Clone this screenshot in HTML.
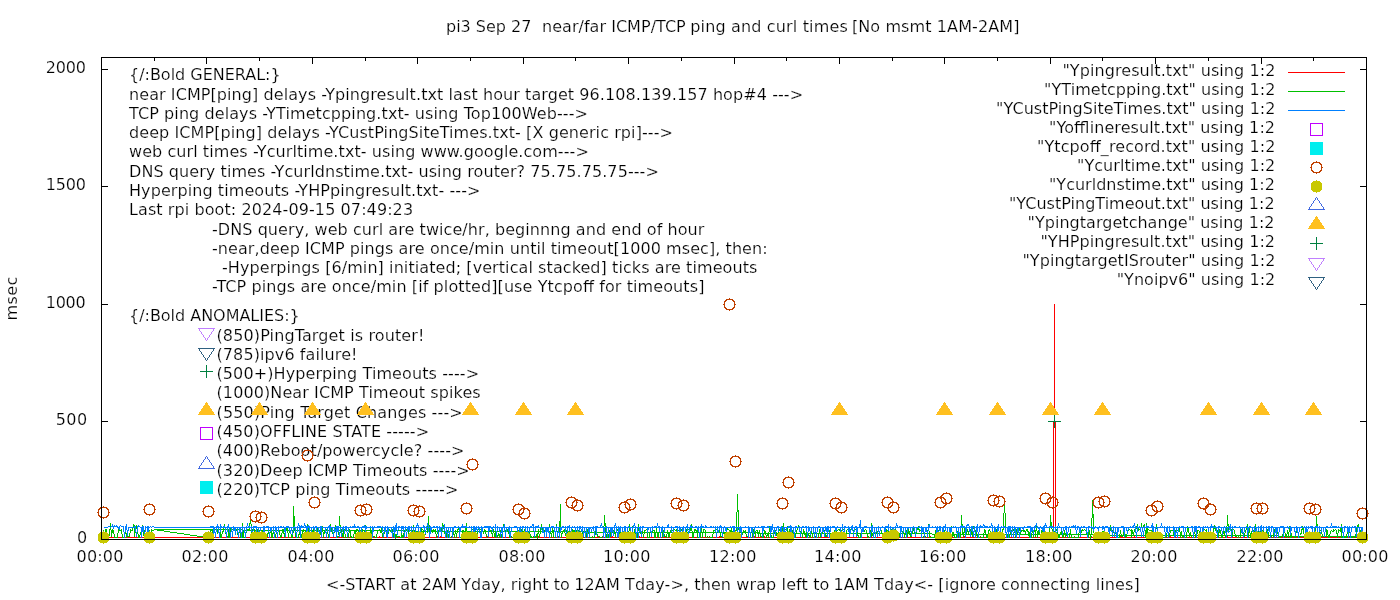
<!DOCTYPE html>
<html lang="en"><head><meta charset="utf-8"><title>pi3 Sep 27 near/far ICMP/TCP ping and curl times</title>
<style>html,body{margin:0;padding:0;background:#fff;}body{width:1400px;height:600px;overflow:hidden;}svg{display:block;}text{font-family:"DejaVu Sans","Liberation Sans",sans-serif;font-size:16px;fill:#000;white-space:pre;stroke:#fff;stroke-width:0.2px;paint-order:fill stroke;}</style></head><body>
<svg width="1400" height="600" viewBox="0 0 1400 600">
<rect width="1400" height="600" fill="#fff"/>
<g fill="#000" shape-rendering="crispEdges">
<rect x="101" y="57" width="1" height="7"/>
<rect x="101" y="533" width="1" height="7"/>
<rect x="154" y="57" width="1" height="4"/>
<rect x="154" y="536" width="1" height="4"/>
<rect x="206" y="57" width="1" height="7"/>
<rect x="206" y="533" width="1" height="7"/>
<rect x="259" y="57" width="1" height="4"/>
<rect x="259" y="536" width="1" height="4"/>
<rect x="312" y="57" width="1" height="7"/>
<rect x="312" y="533" width="1" height="7"/>
<rect x="365" y="57" width="1" height="4"/>
<rect x="365" y="536" width="1" height="4"/>
<rect x="417" y="57" width="1" height="7"/>
<rect x="417" y="533" width="1" height="7"/>
<rect x="470" y="57" width="1" height="4"/>
<rect x="470" y="536" width="1" height="4"/>
<rect x="523" y="57" width="1" height="7"/>
<rect x="523" y="533" width="1" height="7"/>
<rect x="575" y="57" width="1" height="4"/>
<rect x="575" y="536" width="1" height="4"/>
<rect x="628" y="57" width="1" height="7"/>
<rect x="628" y="533" width="1" height="7"/>
<rect x="681" y="57" width="1" height="4"/>
<rect x="681" y="536" width="1" height="4"/>
<rect x="734" y="57" width="1" height="7"/>
<rect x="734" y="533" width="1" height="7"/>
<rect x="786" y="57" width="1" height="4"/>
<rect x="786" y="536" width="1" height="4"/>
<rect x="839" y="57" width="1" height="7"/>
<rect x="839" y="533" width="1" height="7"/>
<rect x="892" y="57" width="1" height="4"/>
<rect x="892" y="536" width="1" height="4"/>
<rect x="944" y="57" width="1" height="7"/>
<rect x="944" y="533" width="1" height="7"/>
<rect x="997" y="57" width="1" height="4"/>
<rect x="997" y="536" width="1" height="4"/>
<rect x="1050" y="57" width="1" height="7"/>
<rect x="1050" y="533" width="1" height="7"/>
<rect x="1102" y="57" width="1" height="4"/>
<rect x="1102" y="536" width="1" height="4"/>
<rect x="1155" y="57" width="1" height="7"/>
<rect x="1155" y="533" width="1" height="7"/>
<rect x="1208" y="57" width="1" height="4"/>
<rect x="1208" y="536" width="1" height="4"/>
<rect x="1261" y="57" width="1" height="7"/>
<rect x="1261" y="533" width="1" height="7"/>
<rect x="1313" y="57" width="1" height="4"/>
<rect x="1313" y="536" width="1" height="4"/>
<rect x="1366" y="57" width="1" height="7"/>
<rect x="1366" y="533" width="1" height="7"/>
<rect x="101" y="539" width="7" height="1"/>
<rect x="1360" y="539" width="7" height="1"/>
<rect x="101" y="421" width="7" height="1"/>
<rect x="1360" y="421" width="7" height="1"/>
<rect x="101" y="304" width="7" height="1"/>
<rect x="1360" y="304" width="7" height="1"/>
<rect x="101" y="186" width="7" height="1"/>
<rect x="1360" y="186" width="7" height="1"/>
<rect x="101" y="69" width="7" height="1"/>
<rect x="1360" y="69" width="7" height="1"/>
</g>
<g>
<text x="0" y="0" transform="translate(17 320.4) rotate(-90)" textLength="43.8" lengthAdjust="spacing">msec</text>
<text y="32"><tspan x="446.00" textLength="85.47" lengthAdjust="spacing">pi3 Sep 27</tspan>  <tspan x="542.00" textLength="143.78" lengthAdjust="spacing">near/far ICMP/TCP</tspan> <tspan x="690.25" textLength="157.50" lengthAdjust="spacing">ping and curl times</tspan> <tspan x="851.90" textLength="167.53" lengthAdjust="spacing">[No msmt 1AM-2AM]</tspan></text>
<text y="590"><tspan x="326.00" textLength="130.80" lengthAdjust="spacing">&lt;-START at 2AM</tspan> <tspan x="461.25" textLength="108.66" lengthAdjust="spacing">Yday, right to</tspan> <tspan x="574.25" textLength="114.75" lengthAdjust="spacing">12AM Tday-&gt;,</tspan> <tspan x="694.25" textLength="135.12" lengthAdjust="spacing">then wrap left to</tspan> <tspan x="833.50" textLength="99.52" lengthAdjust="spacing">1AM Tday&lt;-</tspan> <tspan x="938.30" textLength="201.40" lengthAdjust="spacing">[ignore connecting lines]</tspan></text>
<text x="76.60" y="562" textLength="46.73" lengthAdjust="spacing">00:00</text>
<text x="181.60" y="562" textLength="46.73" lengthAdjust="spacing">02:00</text>
<text x="287.60" y="562" textLength="46.73" lengthAdjust="spacing">04:00</text>
<text x="392.60" y="562" textLength="46.73" lengthAdjust="spacing">06:00</text>
<text x="498.60" y="562" textLength="46.73" lengthAdjust="spacing">08:00</text>
<text x="603.00" y="562" textLength="47.48" lengthAdjust="spacing">10:00</text>
<text x="709.00" y="562" textLength="47.48" lengthAdjust="spacing">12:00</text>
<text x="814.00" y="562" textLength="47.48" lengthAdjust="spacing">14:00</text>
<text x="919.00" y="562" textLength="47.48" lengthAdjust="spacing">16:00</text>
<text x="1025.00" y="562" textLength="47.48" lengthAdjust="spacing">18:00</text>
<text x="1130.60" y="562" textLength="46.73" lengthAdjust="spacing">20:00</text>
<text x="1236.60" y="562" textLength="46.73" lengthAdjust="spacing">22:00</text>
<text x="1341.60" y="562" textLength="46.73" lengthAdjust="spacing">00:00</text>
<text x="76.90" y="543" textLength="10.39" lengthAdjust="spacing">0</text>
<text x="55.75" y="425" textLength="31.37" lengthAdjust="spacing">500</text>
<text x="45.70" y="308" textLength="40.05" lengthAdjust="spacing">1000</text>
<text x="45.75" y="190" textLength="40.12" lengthAdjust="spacing">1500</text>
<text x="45.75" y="73" textLength="40.12" lengthAdjust="spacing">2000</text>
<text x="129.00" y="80" textLength="151.59" lengthAdjust="spacing">{/:Bold GENERAL:}</text>
<text x="129.00" y="100" textLength="674.10" lengthAdjust="spacing">near ICMP[ping] delays -Ypingresult.txt last hour target 96.108.139.157 hop#4 ---&gt;</text>
<text x="129.00" y="119" textLength="458.91" lengthAdjust="spacing">TCP ping delays -YTimetcpping.txt- using Top100Web---&gt;</text>
<text x="129.00" y="138" textLength="543.97" lengthAdjust="spacing">deep ICMP[ping] delays -YCustPingSiteTimes.txt- [X generic rpi]---&gt;</text>
<text x="129.00" y="157" textLength="459.83" lengthAdjust="spacing">web curl times -Ycurltime.txt- using www.google.com---&gt;</text>
<text x="129.00" y="177" textLength="529.87" lengthAdjust="spacing">DNS query times -Ycurldnstime.txt- using router? 75.75.75.75---&gt;</text>
<text x="129.00" y="196" textLength="351.50" lengthAdjust="spacing">Hyperping timeouts -YHPpingresult.txt- ---&gt;</text>
<text x="129.00" y="215" textLength="284.08" lengthAdjust="spacing">Last rpi boot: 2024-09-15 07:49:23</text>
<text x="212.00" y="235" textLength="492.37" lengthAdjust="spacing">-DNS query, web curl are twice/hr, beginnng and end of hour</text>
<text x="212.00" y="254" textLength="555.61" lengthAdjust="spacing">-near,deep ICMP pings are once/min until timeout[1000 msec], then:</text>
<text x="222.00" y="273" textLength="535.34" lengthAdjust="spacing">-Hyperpings [6/min] initiated; [vertical stacked] ticks are timeouts</text>
<text x="212.00" y="292" textLength="492.39" lengthAdjust="spacing">-TCP pings are once/min [if plotted][use Ytcpoff for timeouts]</text>
<text x="129.00" y="321" textLength="170.72" lengthAdjust="spacing">{/:Bold ANOMALIES:}</text>
<text x="216.50" y="341" textLength="207.90" lengthAdjust="spacing">(850)PingTarget is router!</text>
<text x="216.50" y="360" textLength="141.01" lengthAdjust="spacing">(785)ipv6 failure!</text>
<text x="216.50" y="379" textLength="262.57" lengthAdjust="spacing">(500+)Hyperping Timeouts ----&gt;</text>
<text x="216.50" y="398" textLength="264.17" lengthAdjust="spacing">(1000)Near ICMP Timeout spikes</text>
<text x="216.50" y="418" textLength="246.28" lengthAdjust="spacing">(550)Ping Target Changes ---&gt;</text>
<text x="216.50" y="437" textLength="212.54" lengthAdjust="spacing">(450)OFFLINE STATE -----&gt;</text>
<text x="216.50" y="456" textLength="248.00" lengthAdjust="spacing">(400)Reboot/powercycle? ----&gt;</text>
<text x="216.50" y="476" textLength="253.20" lengthAdjust="spacing">(320)Deep ICMP Timeouts ----&gt;</text>
<text x="216.50" y="495" textLength="241.82" lengthAdjust="spacing">(220)TCP ping Timeouts -----&gt;</text>
<text x="1062.40" y="76" textLength="212.98" lengthAdjust="spacing">&quot;Ypingresult.txt&quot; using 1:2</text>
<text x="1044.10" y="95" textLength="231.36" lengthAdjust="spacing">&quot;YTimetcpping.txt&quot; using 1:2</text>
<text x="996.10" y="114" textLength="279.37" lengthAdjust="spacing">&quot;YCustPingSiteTimes.txt&quot; using 1:2</text>
<text x="1049.00" y="133" textLength="226.05" lengthAdjust="spacing">&quot;Yofflineresult.txt&quot; using 1:2</text>
<text x="1037.00" y="152" textLength="238.37" lengthAdjust="spacing">&quot;Ytcpoff_record.txt&quot; using 1:2</text>
<text x="1077.00" y="171" textLength="198.30" lengthAdjust="spacing">&quot;Ycurltime.txt&quot; using 1:2</text>
<text x="1049.00" y="190" textLength="225.90" lengthAdjust="spacing">&quot;Ycurldnstime.txt&quot; using 1:2</text>
<text x="1009.00" y="209" textLength="265.60" lengthAdjust="spacing">&quot;YCustPingTimeout.txt&quot; using 1:2</text>
<text x="1027.60" y="228" textLength="246.89" lengthAdjust="spacing">&quot;Ypingtargetchange&quot; using 1:2</text>
<text x="1040.40" y="247" textLength="234.65" lengthAdjust="spacing">&quot;YHPpingresult.txt&quot; using 1:2</text>
<text x="1022.40" y="266" textLength="252.97" lengthAdjust="spacing">&quot;YpingtargetISrouter&quot; using 1:2</text>
<text x="1116.70" y="285" textLength="158.55" lengthAdjust="spacing">&quot;Ynoipv6&quot; using 1:2</text>
</g>
<g fill="none" stroke-width="1" shape-rendering="crispEdges" stroke-linejoin="miter">
<polyline stroke="#ff0000" points="209.5,537.5 210.5,537.5 211.5,537.5 212.5,537.5 213.5,537.5 213.5,537.5 214.5,537.5 215.5,537.5 216.5,537.5 217.5,537.5 218.5,537.5 219.5,537.5 220.5,537.5 220.5,537.5 221.5,537.5 222.5,537.5 223.5,537.5 224.5,537.5 225.5,537.5 226.5,536.5 227.5,537.5 228.5,537.5 228.5,537.5 229.5,537.5 230.5,537.5 231.5,537.5 232.5,537.5 233.5,537.5 234.5,537.5 235.5,537.5 235.5,537.5 236.5,537.5 237.5,537.5 238.5,537.5 239.5,537.5 240.5,537.5 241.5,537.5 242.5,537.5 242.5,537.5 243.5,537.5 244.5,537.5 245.5,537.5 246.5,537.5 247.5,537.5 248.5,537.5 249.5,537.5 249.5,537.5 250.5,536.5 251.5,537.5 252.5,537.5 253.5,537.5 254.5,537.5 255.5,537.5 256.5,537.5 256.5,537.5 257.5,537.5 258.5,537.5 259.5,537.5 260.5,537.5 261.5,537.5 262.5,537.5 263.5,537.5 264.5,537.5 264.5,537.5 265.5,537.5 266.5,537.5 267.5,537.5 268.5,537.5 269.5,537.5 270.5,537.5 271.5,537.5 271.5,536.5 272.5,537.5 273.5,537.5 274.5,537.5 275.5,536.5 276.5,537.5 277.5,537.5 278.5,537.5 278.5,537.5 279.5,537.5 280.5,537.5 281.5,537.5 282.5,537.5 283.5,537.5 284.5,537.5 285.5,537.5 285.5,537.5 286.5,537.5 287.5,537.5 288.5,537.5 289.5,537.5 290.5,537.5 291.5,536.5 292.5,537.5 293.5,537.5 293.5,537.5 294.5,537.5 295.5,536.5 296.5,537.5 297.5,537.5 298.5,537.5 299.5,537.5 300.5,537.5 300.5,537.5 301.5,537.5 302.5,537.5 303.5,537.5 304.5,537.5 305.5,537.5 306.5,537.5 307.5,537.5 307.5,537.5 308.5,537.5 309.5,537.5 310.5,537.5 311.5,537.5 312.5,537.5 313.5,537.5 314.5,537.5 314.5,536.5 315.5,536.5 316.5,537.5 317.5,537.5 318.5,537.5 319.5,537.5 320.5,537.5 321.5,537.5 321.5,537.5 322.5,537.5 323.5,537.5 324.5,537.5 325.5,537.5 326.5,537.5 327.5,537.5 328.5,537.5 329.5,537.5 329.5,537.5 330.5,537.5 331.5,537.5 332.5,537.5 333.5,537.5 334.5,537.5 335.5,537.5 336.5,537.5 336.5,537.5 337.5,537.5 338.5,537.5 339.5,537.5 340.5,537.5 341.5,537.5 342.5,537.5 343.5,537.5 343.5,537.5 344.5,537.5 345.5,537.5 346.5,537.5 347.5,537.5 348.5,537.5 349.5,537.5 350.5,537.5 350.5,537.5 351.5,537.5 352.5,537.5 353.5,537.5 354.5,537.5 355.5,537.5 356.5,537.5 357.5,536.5 358.5,537.5 358.5,537.5 359.5,537.5 360.5,537.5 361.5,537.5 362.5,537.5 363.5,537.5 364.5,537.5 365.5,537.5 365.5,537.5 366.5,537.5 367.5,537.5 368.5,537.5 369.5,537.5 370.5,537.5 371.5,537.5 372.5,537.5 372.5,537.5 373.5,537.5 374.5,537.5 375.5,537.5 376.5,537.5 377.5,537.5 378.5,537.5 379.5,537.5 379.5,536.5 380.5,537.5 381.5,537.5 382.5,536.5 383.5,537.5 384.5,537.5 385.5,537.5 386.5,537.5 387.5,537.5 387.5,537.5 388.5,537.5 389.5,537.5 390.5,537.5 391.5,537.5 392.5,537.5 393.5,537.5 394.5,537.5 394.5,537.5 395.5,537.5 396.5,537.5 397.5,537.5 398.5,537.5 399.5,537.5 400.5,537.5 401.5,537.5 401.5,537.5 402.5,537.5 403.5,537.5 404.5,537.5 405.5,537.5 406.5,537.5 407.5,537.5 408.5,537.5 408.5,537.5 409.5,537.5 410.5,537.5 411.5,537.5 412.5,537.5 413.5,537.5 414.5,537.5 415.5,537.5 415.5,537.5 416.5,537.5 417.5,537.5 418.5,537.5 419.5,537.5 420.5,537.5 421.5,537.5 422.5,537.5 423.5,537.5 423.5,537.5 424.5,537.5 425.5,537.5 426.5,537.5 427.5,537.5 428.5,537.5 429.5,537.5 430.5,537.5 430.5,537.5 431.5,537.5 432.5,537.5 433.5,537.5 434.5,537.5 435.5,537.5 436.5,537.5 437.5,537.5 437.5,536.5 438.5,537.5 439.5,537.5 440.5,536.5 441.5,537.5 442.5,537.5 443.5,537.5 444.5,537.5 444.5,537.5 445.5,537.5 446.5,537.5 447.5,537.5 448.5,537.5 449.5,537.5 450.5,537.5 451.5,537.5 452.5,537.5 452.5,537.5 453.5,537.5 454.5,537.5 455.5,537.5 456.5,537.5 457.5,537.5 458.5,537.5 459.5,537.5 459.5,537.5 460.5,537.5 461.5,537.5 462.5,537.5 463.5,537.5 464.5,537.5 465.5,537.5 466.5,537.5 466.5,537.5 467.5,537.5 468.5,537.5 469.5,537.5 470.5,537.5 471.5,537.5 472.5,537.5 473.5,537.5 473.5,537.5 474.5,537.5 475.5,537.5 476.5,537.5 477.5,537.5 478.5,537.5 479.5,537.5 480.5,537.5 481.5,537.5 481.5,537.5 482.5,537.5 483.5,537.5 484.5,537.5 485.5,537.5 486.5,537.5 487.5,536.5 488.5,537.5 488.5,536.5 489.5,537.5 490.5,537.5 491.5,537.5 492.5,537.5 493.5,537.5 494.5,537.5 495.5,537.5 495.5,537.5 496.5,537.5 497.5,537.5 498.5,537.5 499.5,537.5 500.5,537.5 501.5,537.5 502.5,537.5 502.5,537.5 503.5,537.5 504.5,537.5 505.5,537.5 506.5,537.5 507.5,537.5 508.5,537.5 509.5,537.5 509.5,537.5 510.5,537.5 511.5,537.5 512.5,537.5 513.5,537.5 514.5,537.5 515.5,537.5 516.5,537.5 517.5,537.5 517.5,537.5 518.5,537.5 519.5,537.5 520.5,537.5 521.5,537.5 522.5,537.5 523.5,537.5 524.5,537.5 524.5,537.5 525.5,537.5 526.5,537.5 527.5,537.5 528.5,536.5 529.5,537.5 530.5,537.5 531.5,537.5 531.5,537.5 532.5,537.5 533.5,536.5 534.5,537.5 535.5,537.5 536.5,537.5 537.5,537.5 538.5,536.5 538.5,537.5 539.5,537.5 540.5,537.5 541.5,537.5 542.5,537.5 543.5,537.5 544.5,537.5 545.5,537.5 546.5,537.5 546.5,537.5 547.5,537.5 548.5,537.5 549.5,537.5 550.5,537.5 551.5,537.5 552.5,537.5 553.5,537.5 553.5,537.5 554.5,537.5 555.5,537.5 556.5,537.5 557.5,537.5 558.5,537.5 559.5,537.5 560.5,537.5 560.5,537.5 561.5,537.5 562.5,537.5 563.5,537.5 564.5,537.5 565.5,537.5 566.5,537.5 567.5,537.5 567.5,537.5 568.5,537.5 569.5,537.5 570.5,537.5 571.5,537.5 572.5,537.5 573.5,537.5 574.5,537.5 574.5,536.5 575.5,537.5 576.5,537.5 577.5,537.5 578.5,537.5 579.5,537.5 580.5,537.5 581.5,537.5 582.5,537.5 582.5,537.5 583.5,537.5 584.5,537.5 585.5,537.5 586.5,537.5 587.5,537.5 588.5,537.5 589.5,537.5 589.5,537.5 590.5,537.5 591.5,537.5 592.5,537.5 593.5,537.5 594.5,537.5 595.5,537.5 596.5,537.5 596.5,537.5 597.5,537.5 598.5,537.5 599.5,536.5 600.5,537.5 601.5,537.5 602.5,537.5 603.5,537.5 603.5,537.5 604.5,537.5 605.5,537.5 606.5,537.5 607.5,537.5 608.5,537.5 609.5,537.5 610.5,537.5 611.5,537.5 611.5,537.5 612.5,536.5 613.5,537.5 614.5,537.5 615.5,537.5 616.5,537.5 617.5,537.5 618.5,537.5 618.5,537.5 619.5,537.5 620.5,537.5 621.5,537.5 622.5,537.5 623.5,537.5 624.5,537.5 625.5,537.5 625.5,537.5 626.5,537.5 627.5,537.5 628.5,537.5 629.5,537.5 630.5,537.5 631.5,536.5 632.5,536.5 632.5,537.5 633.5,537.5 634.5,537.5 635.5,537.5 636.5,537.5 637.5,537.5 638.5,537.5 639.5,536.5 640.5,537.5 640.5,537.5 641.5,537.5 642.5,537.5 643.5,537.5 644.5,537.5 645.5,537.5 646.5,537.5 647.5,537.5 647.5,537.5 648.5,537.5 649.5,537.5 650.5,537.5 651.5,537.5 652.5,537.5 653.5,537.5 654.5,537.5 654.5,537.5 655.5,537.5 656.5,537.5 657.5,537.5 658.5,537.5 659.5,537.5 660.5,537.5 661.5,537.5 661.5,537.5 662.5,537.5 663.5,537.5 664.5,537.5 665.5,537.5 666.5,537.5 667.5,537.5 668.5,537.5 668.5,537.5 669.5,537.5 670.5,537.5 671.5,537.5 672.5,537.5 673.5,537.5 674.5,537.5 675.5,537.5 676.5,537.5 676.5,537.5 677.5,537.5 678.5,537.5 679.5,537.5 680.5,537.5 681.5,537.5 682.5,537.5 683.5,537.5 683.5,537.5 684.5,537.5 685.5,537.5 686.5,537.5 687.5,537.5 688.5,537.5 689.5,537.5 690.5,537.5 690.5,537.5 691.5,537.5 692.5,537.5 693.5,537.5 694.5,537.5 695.5,537.5 696.5,537.5 697.5,537.5 697.5,537.5 698.5,537.5 699.5,537.5 700.5,537.5 701.5,537.5 702.5,537.5 703.5,537.5 704.5,537.5 705.5,537.5 705.5,537.5 706.5,537.5 707.5,537.5 708.5,537.5 709.5,537.5 710.5,537.5 711.5,537.5 712.5,537.5 712.5,537.5 713.5,537.5 714.5,537.5 715.5,537.5 716.5,537.5 717.5,537.5 718.5,537.5 719.5,536.5 719.5,537.5 720.5,537.5 721.5,537.5 722.5,537.5 723.5,537.5 724.5,536.5 725.5,537.5 726.5,537.5 726.5,537.5 727.5,537.5 728.5,537.5 729.5,537.5 730.5,537.5 731.5,537.5 732.5,537.5 733.5,537.5 734.5,537.5 734.5,537.5 735.5,537.5 736.5,537.5 737.5,537.5 738.5,537.5 739.5,537.5 740.5,537.5 741.5,537.5 741.5,537.5 742.5,537.5 743.5,537.5 744.5,537.5 745.5,537.5 746.5,537.5 747.5,537.5 748.5,537.5 748.5,537.5 749.5,537.5 750.5,537.5 751.5,537.5 752.5,537.5 753.5,537.5 754.5,536.5 755.5,537.5 755.5,537.5 756.5,537.5 757.5,537.5 758.5,537.5 759.5,537.5 760.5,537.5 761.5,537.5 762.5,537.5 762.5,537.5 763.5,537.5 764.5,536.5 765.5,537.5 766.5,537.5 767.5,537.5 768.5,537.5 769.5,537.5 770.5,537.5 770.5,537.5 771.5,537.5 772.5,537.5 773.5,537.5 774.5,537.5 775.5,537.5 776.5,537.5 777.5,537.5 777.5,537.5 778.5,537.5 779.5,537.5 780.5,537.5 781.5,537.5 782.5,537.5 783.5,537.5 784.5,537.5 784.5,537.5 785.5,537.5 786.5,537.5 787.5,537.5 788.5,537.5 789.5,537.5 790.5,537.5 791.5,537.5 791.5,537.5 792.5,537.5 793.5,537.5 794.5,537.5 795.5,537.5 796.5,537.5 797.5,537.5 798.5,537.5 799.5,537.5 799.5,537.5 800.5,537.5 801.5,537.5 802.5,537.5 803.5,537.5 804.5,537.5 805.5,537.5 806.5,537.5 806.5,537.5 807.5,537.5 808.5,537.5 809.5,537.5 810.5,537.5 811.5,537.5 812.5,536.5 813.5,537.5 813.5,537.5 814.5,537.5 815.5,537.5 816.5,537.5 817.5,537.5 818.5,537.5 819.5,537.5 820.5,537.5 820.5,537.5 821.5,537.5 822.5,537.5 823.5,537.5 824.5,537.5 825.5,537.5 826.5,537.5 827.5,537.5 827.5,537.5 828.5,537.5 829.5,537.5 830.5,537.5 831.5,537.5 832.5,537.5 833.5,537.5 834.5,537.5 835.5,537.5 835.5,537.5 836.5,537.5 837.5,537.5 838.5,537.5 839.5,537.5 840.5,537.5 841.5,537.5 842.5,537.5 842.5,537.5 843.5,537.5 844.5,536.5 845.5,537.5 846.5,537.5 847.5,537.5 848.5,537.5 849.5,536.5 849.5,537.5 850.5,537.5 851.5,537.5 852.5,537.5 853.5,537.5 854.5,537.5 855.5,537.5 856.5,537.5 856.5,537.5 857.5,537.5 858.5,537.5 859.5,537.5 860.5,537.5 861.5,537.5 862.5,537.5 863.5,537.5 864.5,537.5 864.5,537.5 865.5,537.5 866.5,537.5 867.5,537.5 868.5,537.5 869.5,537.5 870.5,537.5 871.5,537.5 871.5,537.5 872.5,537.5 873.5,537.5 874.5,537.5 875.5,537.5 876.5,537.5 877.5,537.5 878.5,537.5 878.5,537.5 879.5,537.5 880.5,537.5 881.5,537.5 882.5,537.5 883.5,537.5 884.5,537.5 885.5,537.5 885.5,537.5 886.5,537.5 887.5,537.5 888.5,537.5 889.5,537.5 890.5,537.5 891.5,537.5 892.5,537.5 893.5,537.5 893.5,537.5 894.5,537.5 895.5,537.5 896.5,537.5 897.5,537.5 898.5,537.5 899.5,537.5 900.5,537.5 900.5,537.5 901.5,537.5 902.5,537.5 903.5,537.5 904.5,537.5 905.5,537.5 906.5,537.5 907.5,537.5 907.5,537.5 908.5,537.5 909.5,537.5 910.5,537.5 911.5,537.5 912.5,537.5 913.5,537.5 914.5,537.5 914.5,537.5 915.5,537.5 916.5,537.5 917.5,537.5 918.5,537.5 919.5,537.5 920.5,537.5 921.5,537.5 921.5,537.5 922.5,537.5 923.5,537.5 924.5,537.5 925.5,537.5 926.5,537.5 927.5,537.5 928.5,537.5 929.5,537.5 929.5,537.5 930.5,536.5 931.5,537.5 932.5,537.5 933.5,537.5 934.5,537.5 935.5,537.5 936.5,537.5 936.5,537.5 937.5,537.5 938.5,537.5 939.5,537.5 940.5,537.5 941.5,537.5 942.5,537.5 943.5,537.5 943.5,537.5 944.5,537.5 945.5,537.5 946.5,537.5 947.5,537.5 948.5,537.5 949.5,537.5 950.5,537.5 950.5,537.5 951.5,537.5 952.5,537.5 953.5,537.5 954.5,537.5 955.5,537.5 956.5,537.5 957.5,536.5 958.5,537.5 958.5,537.5 959.5,537.5 960.5,537.5 961.5,537.5 962.5,537.5 963.5,537.5 964.5,536.5 965.5,537.5 965.5,537.5 966.5,537.5 967.5,537.5 968.5,537.5 969.5,537.5 970.5,537.5 971.5,537.5 972.5,537.5 972.5,537.5 973.5,537.5 974.5,537.5 975.5,537.5 976.5,537.5 977.5,537.5 978.5,537.5 979.5,537.5 979.5,537.5 980.5,537.5 981.5,537.5 982.5,537.5 983.5,537.5 984.5,537.5 985.5,537.5 986.5,537.5 987.5,537.5 987.5,537.5 988.5,537.5 989.5,537.5 990.5,537.5 991.5,537.5 992.5,537.5 993.5,537.5 994.5,537.5 994.5,537.5 995.5,537.5 996.5,537.5 997.5,537.5 998.5,537.5 999.5,537.5 1000.5,537.5 1001.5,537.5 1001.5,537.5 1002.5,537.5 1003.5,537.5 1004.5,537.5 1005.5,537.5 1006.5,537.5 1007.5,537.5 1008.5,537.5 1008.5,537.5 1009.5,537.5 1010.5,537.5 1011.5,537.5 1012.5,537.5 1013.5,537.5 1014.5,537.5 1015.5,536.5 1015.5,537.5 1016.5,537.5 1017.5,537.5 1018.5,537.5 1019.5,537.5 1020.5,537.5 1021.5,537.5 1022.5,537.5 1023.5,537.5 1023.5,537.5 1024.5,537.5 1025.5,537.5 1026.5,537.5 1027.5,537.5 1028.5,537.5 1029.5,537.5 1030.5,537.5 1030.5,537.5 1031.5,537.5 1032.5,537.5 1033.5,537.5 1034.5,537.5 1035.5,537.5 1036.5,537.5 1037.5,537.5 1037.5,537.5 1038.5,537.5 1039.5,537.5 1040.5,537.5 1041.5,537.5 1042.5,537.5 1043.5,537.5 1044.5,537.5 1044.5,537.5 1045.5,537.5 1046.5,537.5 1047.5,537.5 1048.5,537.5 1049.5,537.5 1050.5,537.5 1051.5,537.5 1052.5,537.5 1052.5,537.5 1053.5,537.5 1054.5,537.5 1055.5,537.5 1056.5,537.5 1057.5,537.5 1058.5,537.5 1059.5,537.5 1059.5,537.5 1060.5,537.5 1061.5,537.5 1062.5,537.5 1063.5,537.5 1064.5,537.5 1065.5,537.5 1066.5,537.5 1066.5,537.5 1067.5,537.5 1068.5,537.5 1069.5,537.5 1070.5,537.5 1071.5,537.5 1072.5,537.5 1073.5,537.5 1073.5,537.5 1074.5,537.5 1075.5,537.5 1076.5,537.5 1077.5,537.5 1078.5,537.5 1079.5,537.5 1080.5,537.5 1080.5,537.5 1081.5,537.5 1082.5,537.5 1083.5,537.5 1084.5,537.5 1085.5,537.5 1086.5,537.5 1087.5,537.5 1088.5,537.5 1088.5,537.5 1089.5,537.5 1090.5,537.5 1091.5,537.5 1092.5,537.5 1093.5,536.5 1094.5,537.5 1095.5,537.5 1095.5,537.5 1096.5,537.5 1097.5,537.5 1098.5,537.5 1099.5,537.5 1100.5,537.5 1101.5,537.5 1102.5,536.5 1102.5,536.5 1103.5,537.5 1104.5,537.5 1105.5,537.5 1106.5,537.5 1107.5,537.5 1108.5,537.5 1109.5,537.5 1109.5,537.5 1110.5,537.5 1111.5,537.5 1112.5,537.5 1113.5,537.5 1114.5,537.5 1115.5,537.5 1116.5,537.5 1117.5,537.5 1117.5,537.5 1118.5,537.5 1119.5,537.5 1120.5,536.5 1121.5,537.5 1122.5,537.5 1123.5,537.5 1124.5,537.5 1124.5,537.5 1125.5,537.5 1126.5,537.5 1127.5,537.5 1128.5,537.5 1129.5,537.5 1130.5,537.5 1131.5,537.5 1131.5,537.5 1132.5,537.5 1133.5,537.5 1134.5,536.5 1135.5,537.5 1136.5,537.5 1137.5,537.5 1138.5,537.5 1138.5,537.5 1139.5,537.5 1140.5,537.5 1141.5,537.5 1142.5,537.5 1143.5,537.5 1144.5,537.5 1145.5,537.5 1146.5,537.5 1146.5,537.5 1147.5,537.5 1148.5,536.5 1149.5,537.5 1150.5,537.5 1151.5,537.5 1152.5,537.5 1153.5,537.5 1153.5,537.5 1154.5,537.5 1155.5,537.5 1156.5,537.5 1157.5,537.5 1158.5,537.5 1159.5,537.5 1160.5,537.5 1160.5,537.5 1161.5,537.5 1162.5,537.5 1163.5,537.5 1164.5,537.5 1165.5,537.5 1166.5,537.5 1167.5,537.5 1167.5,537.5 1168.5,537.5 1169.5,537.5 1170.5,536.5 1171.5,537.5 1172.5,537.5 1173.5,537.5 1174.5,537.5 1174.5,537.5 1175.5,537.5 1176.5,537.5 1177.5,537.5 1178.5,537.5 1179.5,537.5 1180.5,537.5 1181.5,537.5 1182.5,537.5 1182.5,537.5 1183.5,537.5 1184.5,537.5 1185.5,537.5 1186.5,537.5 1187.5,537.5 1188.5,537.5 1189.5,537.5 1189.5,537.5 1190.5,537.5 1191.5,537.5 1192.5,537.5 1193.5,537.5 1194.5,537.5 1195.5,536.5 1196.5,537.5 1196.5,537.5 1197.5,537.5 1198.5,537.5 1199.5,536.5 1200.5,537.5 1201.5,537.5 1202.5,537.5 1203.5,537.5 1203.5,537.5 1204.5,537.5 1205.5,537.5 1206.5,537.5 1207.5,537.5 1208.5,537.5 1209.5,537.5 1210.5,537.5 1211.5,537.5 1211.5,537.5 1212.5,537.5 1213.5,537.5 1214.5,537.5 1215.5,537.5 1216.5,537.5 1217.5,537.5 1218.5,537.5 1218.5,537.5 1219.5,537.5 1220.5,537.5 1221.5,537.5 1222.5,537.5 1223.5,537.5 1224.5,537.5 1225.5,537.5 1225.5,537.5 1226.5,537.5 1227.5,536.5 1228.5,537.5 1229.5,537.5 1230.5,537.5 1231.5,537.5 1232.5,537.5 1232.5,537.5 1233.5,537.5 1234.5,537.5 1235.5,537.5 1236.5,537.5 1237.5,537.5 1238.5,537.5 1239.5,537.5 1240.5,537.5 1240.5,537.5 1241.5,537.5 1242.5,537.5 1243.5,537.5 1244.5,537.5 1245.5,537.5 1246.5,537.5 1247.5,536.5 1247.5,537.5 1248.5,537.5 1249.5,537.5 1250.5,536.5 1251.5,537.5 1252.5,537.5 1253.5,537.5 1254.5,537.5 1254.5,537.5 1255.5,537.5 1256.5,537.5 1257.5,537.5 1258.5,537.5 1259.5,537.5 1260.5,537.5 1261.5,537.5 1261.5,537.5 1262.5,537.5 1263.5,537.5 1264.5,537.5 1265.5,537.5 1266.5,537.5 1267.5,537.5 1268.5,537.5 1268.5,537.5 1269.5,537.5 1270.5,537.5 1271.5,537.5 1272.5,537.5 1273.5,537.5 1274.5,536.5 1275.5,537.5 1276.5,537.5 1276.5,537.5 1277.5,537.5 1278.5,537.5 1279.5,537.5 1280.5,537.5 1281.5,537.5 1282.5,537.5 1283.5,537.5 1283.5,537.5 1284.5,537.5 1285.5,537.5 1286.5,537.5 1287.5,537.5 1288.5,537.5 1289.5,537.5 1290.5,537.5 1290.5,537.5 1291.5,537.5 1292.5,537.5 1293.5,537.5 1294.5,537.5 1295.5,537.5 1296.5,537.5 1297.5,537.5 1297.5,537.5 1298.5,537.5 1299.5,537.5 1300.5,537.5 1301.5,537.5 1302.5,537.5 1303.5,537.5 1304.5,537.5 1305.5,537.5 1305.5,537.5 1306.5,537.5 1307.5,537.5 1308.5,537.5 1309.5,537.5 1310.5,537.5 1311.5,537.5 1312.5,537.5 1312.5,537.5 1313.5,537.5 1314.5,537.5 1315.5,537.5 1316.5,537.5 1317.5,537.5 1318.5,537.5 1319.5,537.5 1319.5,537.5 1320.5,537.5 1321.5,537.5 1322.5,537.5 1323.5,537.5 1324.5,537.5 1325.5,537.5 1326.5,537.5 1326.5,537.5 1327.5,537.5 1328.5,537.5 1329.5,537.5 1330.5,537.5 1331.5,537.5 1332.5,537.5 1333.5,537.5 1333.5,537.5 1334.5,537.5 1335.5,537.5 1336.5,537.5 1337.5,537.5 1338.5,537.5 1339.5,537.5 1340.5,537.5 1341.5,537.5 1341.5,537.5 1342.5,537.5 1343.5,537.5 1344.5,537.5 1345.5,537.5 1346.5,537.5 1347.5,537.5 1348.5,537.5 1348.5,537.5 1349.5,537.5 1350.5,537.5 1351.5,537.5 1352.5,537.5 1353.5,537.5 1354.5,537.5 1355.5,537.5 1355.5,537.5 1356.5,537.5 1357.5,537.5 1358.5,537.5 1359.5,537.5 1360.5,537.5 1361.5,537.5 1362.5,537.5 1362.5,537.5 154.5,537.5 153.5,537.5 152.5,537.5 151.5,537.5 150.5,537.5 149.5,537.5 148.5,537.5 148.5,537.5 147.5,537.5 146.5,537.5 145.5,537.5 144.5,537.5 143.5,537.5 142.5,537.5 141.5,537.5 141.5,537.5 140.5,537.5 139.5,537.5 138.5,537.5 137.5,537.5 136.5,537.5 135.5,537.5 134.5,537.5 134.5,537.5 133.5,537.5 132.5,537.5 131.5,537.5 130.5,537.5 129.5,537.5 128.5,537.5 127.5,537.5 126.5,537.5 126.5,537.5 125.5,537.5 124.5,537.5 123.5,537.5 122.5,537.5 121.5,537.5 120.5,537.5 119.5,537.5 119.5,537.5 118.5,537.5 117.5,537.5 116.5,537.5 115.5,537.5 114.5,537.5 113.5,537.5 112.5,537.5 112.5,537.5 111.5,537.5 110.5,537.5 109.5,537.5 108.5,537.5 107.5,537.5 106.5,537.5 105.5,537.5 105.5,537.5 104.5,537.5 103.5,537.5"/>
<path stroke="#ff0000" d="M1053.5 537V421.5M1054.5 421.5V304M1055.5 421.5V537"/>
<polyline stroke="#00c000" points="209.5,537.5 210.5,529.5 211.5,529.5 212.5,531.5 213.5,537.5 213.5,536.5 214.5,529.5 215.5,529.5 216.5,529.5 217.5,533.5 218.5,527.5 219.5,537.5 220.5,537.5 220.5,530.5 221.5,537.5 222.5,531.5 223.5,531.5 224.5,524.5 225.5,530.5 226.5,537.5 227.5,536.5 228.5,537.5 228.5,530.5 229.5,537.5 230.5,529.5 231.5,531.5 232.5,532.5 233.5,529.5 234.5,530.5 235.5,529.5 235.5,530.5 236.5,530.5 237.5,531.5 238.5,537.5 239.5,527.5 240.5,537.5 241.5,534.5 242.5,537.5 242.5,523.5 243.5,537.5 244.5,537.5 245.5,536.5 246.5,529.5 247.5,529.5 248.5,529.5 249.5,529.5 249.5,530.5 250.5,515.5 251.5,532.5 252.5,530.5 253.5,537.5 254.5,529.5 255.5,536.5 256.5,537.5 256.5,537.5 257.5,529.5 258.5,530.5 259.5,530.5 260.5,529.5 261.5,530.5 262.5,530.5 263.5,536.5 264.5,529.5 264.5,529.5 265.5,537.5 266.5,537.5 267.5,536.5 268.5,530.5 269.5,536.5 270.5,530.5 271.5,529.5 271.5,537.5 272.5,537.5 273.5,529.5 274.5,537.5 275.5,537.5 276.5,530.5 277.5,533.5 278.5,530.5 278.5,531.5 279.5,531.5 280.5,537.5 281.5,536.5 282.5,529.5 283.5,529.5 284.5,537.5 285.5,529.5 285.5,531.5 286.5,529.5 287.5,527.5 288.5,537.5 289.5,529.5 290.5,530.5 291.5,537.5 292.5,537.5 293.5,529.5 293.5,506.5 294.5,525.5 295.5,536.5 296.5,537.5 297.5,537.5 298.5,537.5 299.5,531.5 300.5,537.5 300.5,530.5 301.5,537.5 302.5,533.5 303.5,529.5 304.5,530.5 305.5,530.5 306.5,536.5 307.5,524.5 307.5,537.5 308.5,527.5 309.5,537.5 310.5,537.5 311.5,529.5 312.5,532.5 313.5,530.5 314.5,537.5 314.5,537.5 315.5,537.5 316.5,531.5 317.5,529.5 318.5,537.5 319.5,536.5 320.5,532.5 321.5,536.5 321.5,537.5 322.5,526.5 323.5,537.5 324.5,530.5 325.5,531.5 326.5,529.5 327.5,530.5 328.5,537.5 329.5,537.5 329.5,536.5 330.5,524.5 331.5,531.5 332.5,531.5 333.5,536.5 334.5,530.5 335.5,525.5 336.5,537.5 336.5,537.5 337.5,537.5 338.5,535.5 339.5,516.5 340.5,532.5 341.5,529.5 342.5,536.5 343.5,537.5 343.5,529.5 344.5,529.5 345.5,537.5 346.5,537.5 347.5,536.5 348.5,537.5 349.5,529.5 350.5,530.5 350.5,535.5 351.5,537.5 352.5,537.5 353.5,537.5 354.5,531.5 355.5,533.5 356.5,529.5 357.5,529.5 358.5,530.5 358.5,537.5 359.5,530.5 360.5,537.5 361.5,536.5 362.5,529.5 363.5,537.5 364.5,537.5 365.5,525.5 365.5,529.5 366.5,537.5 367.5,537.5 368.5,537.5 369.5,537.5 370.5,529.5 371.5,531.5 372.5,537.5 372.5,537.5 373.5,536.5 374.5,536.5 375.5,537.5 376.5,537.5 377.5,530.5 378.5,530.5 379.5,530.5 379.5,529.5 380.5,531.5 381.5,529.5 382.5,536.5 383.5,537.5 384.5,530.5 385.5,530.5 386.5,530.5 387.5,529.5 387.5,537.5 388.5,530.5 389.5,529.5 390.5,531.5 391.5,530.5 392.5,529.5 393.5,536.5 394.5,529.5 394.5,529.5 395.5,537.5 396.5,535.5 397.5,537.5 398.5,536.5 399.5,536.5 400.5,537.5 401.5,537.5 401.5,531.5 402.5,537.5 403.5,536.5 404.5,530.5 405.5,529.5 406.5,529.5 407.5,530.5 408.5,531.5 408.5,531.5 409.5,537.5 410.5,537.5 411.5,536.5 412.5,537.5 413.5,525.5 414.5,534.5 415.5,537.5 415.5,537.5 416.5,531.5 417.5,537.5 418.5,536.5 419.5,537.5 420.5,537.5 421.5,528.5 422.5,529.5 423.5,530.5 423.5,537.5 424.5,537.5 425.5,533.5 426.5,527.5 427.5,532.5 428.5,516.5 429.5,532.5 430.5,529.5 430.5,529.5 431.5,529.5 432.5,531.5 433.5,529.5 434.5,530.5 435.5,529.5 436.5,537.5 437.5,530.5 437.5,530.5 438.5,530.5 439.5,530.5 440.5,530.5 441.5,530.5 442.5,523.5 443.5,527.5 444.5,530.5 444.5,529.5 445.5,537.5 446.5,536.5 447.5,530.5 448.5,537.5 449.5,537.5 450.5,537.5 451.5,536.5 452.5,537.5 452.5,529.5 453.5,532.5 454.5,537.5 455.5,530.5 456.5,537.5 457.5,529.5 458.5,529.5 459.5,527.5 459.5,537.5 460.5,537.5 461.5,537.5 462.5,530.5 463.5,530.5 464.5,536.5 465.5,529.5 466.5,523.5 466.5,536.5 467.5,537.5 468.5,537.5 469.5,537.5 470.5,536.5 471.5,529.5 472.5,529.5 473.5,529.5 473.5,531.5 474.5,530.5 475.5,529.5 476.5,537.5 477.5,530.5 478.5,529.5 479.5,529.5 480.5,529.5 481.5,530.5 481.5,530.5 482.5,529.5 483.5,532.5 484.5,529.5 485.5,530.5 486.5,536.5 487.5,537.5 488.5,536.5 488.5,531.5 489.5,531.5 490.5,530.5 491.5,530.5 492.5,536.5 493.5,529.5 494.5,536.5 495.5,537.5 495.5,530.5 496.5,536.5 497.5,537.5 498.5,533.5 499.5,537.5 500.5,530.5 501.5,537.5 502.5,537.5 502.5,531.5 503.5,524.5 504.5,529.5 505.5,530.5 506.5,531.5 507.5,529.5 508.5,529.5 509.5,537.5 509.5,530.5 510.5,537.5 511.5,536.5 512.5,537.5 513.5,537.5 514.5,537.5 515.5,537.5 516.5,533.5 517.5,529.5 517.5,531.5 518.5,530.5 519.5,529.5 520.5,536.5 521.5,529.5 522.5,537.5 523.5,537.5 524.5,529.5 524.5,529.5 525.5,532.5 526.5,537.5 527.5,537.5 528.5,532.5 529.5,529.5 530.5,537.5 531.5,536.5 531.5,537.5 532.5,537.5 533.5,536.5 534.5,537.5 535.5,537.5 536.5,535.5 537.5,537.5 538.5,529.5 538.5,530.5 539.5,537.5 540.5,530.5 541.5,524.5 542.5,531.5 543.5,529.5 544.5,530.5 545.5,529.5 546.5,531.5 546.5,529.5 547.5,529.5 548.5,531.5 549.5,524.5 550.5,530.5 551.5,537.5 552.5,529.5 553.5,531.5 553.5,536.5 554.5,537.5 555.5,537.5 556.5,524.5 557.5,537.5 558.5,536.5 559.5,537.5 560.5,504.5 560.5,528.5 561.5,537.5 562.5,531.5 563.5,530.5 564.5,529.5 565.5,535.5 566.5,530.5 567.5,529.5 567.5,530.5 568.5,536.5 569.5,534.5 570.5,536.5 571.5,535.5 572.5,529.5 573.5,530.5 574.5,530.5 574.5,531.5 575.5,530.5 576.5,531.5 577.5,529.5 578.5,530.5 579.5,530.5 580.5,531.5 581.5,535.5 582.5,530.5 582.5,537.5 583.5,536.5 584.5,537.5 585.5,537.5 586.5,536.5 587.5,529.5 588.5,529.5 589.5,537.5 589.5,536.5 590.5,537.5 591.5,537.5 592.5,536.5 593.5,537.5 594.5,537.5 595.5,532.5 596.5,530.5 596.5,530.5 597.5,536.5 598.5,536.5 599.5,537.5 600.5,537.5 601.5,537.5 602.5,536.5 603.5,537.5 603.5,537.5 604.5,515.5 605.5,530.5 606.5,537.5 607.5,537.5 608.5,537.5 609.5,530.5 610.5,536.5 611.5,530.5 611.5,531.5 612.5,530.5 613.5,531.5 614.5,529.5 615.5,537.5 616.5,529.5 617.5,529.5 618.5,531.5 618.5,533.5 619.5,530.5 620.5,537.5 621.5,537.5 622.5,537.5 623.5,536.5 624.5,536.5 625.5,537.5 625.5,537.5 626.5,536.5 627.5,537.5 628.5,537.5 629.5,524.5 630.5,530.5 631.5,537.5 632.5,526.5 632.5,537.5 633.5,536.5 634.5,529.5 635.5,532.5 636.5,537.5 637.5,537.5 638.5,524.5 639.5,529.5 640.5,533.5 640.5,530.5 641.5,536.5 642.5,530.5 643.5,537.5 644.5,530.5 645.5,530.5 646.5,529.5 647.5,529.5 647.5,537.5 648.5,537.5 649.5,537.5 650.5,529.5 651.5,532.5 652.5,530.5 653.5,530.5 654.5,530.5 654.5,537.5 655.5,537.5 656.5,526.5 657.5,536.5 658.5,537.5 659.5,529.5 660.5,536.5 661.5,528.5 661.5,528.5 662.5,537.5 663.5,530.5 664.5,536.5 665.5,536.5 666.5,537.5 667.5,530.5 668.5,534.5 668.5,537.5 669.5,536.5 670.5,530.5 671.5,529.5 672.5,530.5 673.5,529.5 674.5,529.5 675.5,530.5 676.5,529.5 676.5,531.5 677.5,530.5 678.5,530.5 679.5,531.5 680.5,532.5 681.5,529.5 682.5,530.5 683.5,536.5 683.5,537.5 684.5,537.5 685.5,537.5 686.5,529.5 687.5,529.5 688.5,529.5 689.5,529.5 690.5,530.5 690.5,529.5 691.5,524.5 692.5,537.5 693.5,537.5 694.5,529.5 695.5,529.5 696.5,531.5 697.5,529.5 697.5,537.5 698.5,537.5 699.5,536.5 700.5,537.5 701.5,525.5 702.5,537.5 703.5,529.5 704.5,529.5 705.5,530.5 705.5,536.5 706.5,537.5 707.5,536.5 708.5,537.5 709.5,536.5 710.5,537.5 711.5,537.5 712.5,537.5 712.5,537.5 713.5,530.5 714.5,530.5 715.5,529.5 716.5,529.5 717.5,529.5 718.5,531.5 719.5,529.5 719.5,529.5 720.5,536.5 721.5,536.5 722.5,537.5 723.5,530.5 724.5,535.5 725.5,533.5 726.5,537.5 726.5,530.5 727.5,528.5 728.5,529.5 729.5,530.5 730.5,531.5 731.5,529.5 732.5,533.5 733.5,530.5 734.5,536.5 734.5,530.5 735.5,530.5 736.5,530.5 737.5,494.5 738.5,525.5 739.5,533.5 740.5,530.5 741.5,530.5 741.5,530.5 742.5,534.5 743.5,530.5 744.5,531.5 745.5,530.5 746.5,536.5 747.5,536.5 748.5,537.5 748.5,532.5 749.5,529.5 750.5,536.5 751.5,537.5 752.5,536.5 753.5,529.5 754.5,529.5 755.5,537.5 755.5,531.5 756.5,530.5 757.5,530.5 758.5,536.5 759.5,530.5 760.5,536.5 761.5,536.5 762.5,537.5 762.5,529.5 763.5,537.5 764.5,530.5 765.5,531.5 766.5,537.5 767.5,534.5 768.5,537.5 769.5,526.5 770.5,529.5 770.5,531.5 771.5,537.5 772.5,537.5 773.5,537.5 774.5,529.5 775.5,530.5 776.5,534.5 777.5,537.5 777.5,537.5 778.5,531.5 779.5,529.5 780.5,529.5 781.5,537.5 782.5,529.5 783.5,523.5 784.5,529.5 784.5,529.5 785.5,529.5 786.5,530.5 787.5,526.5 788.5,537.5 789.5,529.5 790.5,530.5 791.5,536.5 791.5,530.5 792.5,530.5 793.5,537.5 794.5,536.5 795.5,537.5 796.5,530.5 797.5,529.5 798.5,525.5 799.5,529.5 799.5,527.5 800.5,533.5 801.5,529.5 802.5,537.5 803.5,530.5 804.5,532.5 805.5,536.5 806.5,530.5 806.5,537.5 807.5,537.5 808.5,533.5 809.5,537.5 810.5,537.5 811.5,530.5 812.5,536.5 813.5,537.5 813.5,537.5 814.5,537.5 815.5,536.5 816.5,536.5 817.5,537.5 818.5,536.5 819.5,529.5 820.5,537.5 820.5,536.5 821.5,536.5 822.5,529.5 823.5,529.5 824.5,530.5 825.5,536.5 826.5,536.5 827.5,533.5 827.5,531.5 828.5,530.5 829.5,530.5 830.5,537.5 831.5,537.5 832.5,537.5 833.5,536.5 834.5,530.5 835.5,537.5 835.5,537.5 836.5,529.5 837.5,530.5 838.5,529.5 839.5,529.5 840.5,532.5 841.5,530.5 842.5,530.5 842.5,529.5 843.5,529.5 844.5,530.5 845.5,536.5 846.5,530.5 847.5,529.5 848.5,529.5 849.5,530.5 849.5,532.5 850.5,529.5 851.5,529.5 852.5,529.5 853.5,530.5 854.5,530.5 855.5,529.5 856.5,530.5 856.5,530.5 857.5,533.5 858.5,537.5 859.5,537.5 860.5,537.5 861.5,530.5 862.5,531.5 863.5,530.5 864.5,531.5 864.5,530.5 865.5,529.5 866.5,530.5 867.5,537.5 868.5,536.5 869.5,537.5 870.5,537.5 871.5,523.5 871.5,536.5 872.5,534.5 873.5,536.5 874.5,537.5 875.5,537.5 876.5,529.5 877.5,532.5 878.5,530.5 878.5,530.5 879.5,531.5 880.5,530.5 881.5,530.5 882.5,536.5 883.5,537.5 884.5,536.5 885.5,537.5 885.5,537.5 886.5,529.5 887.5,530.5 888.5,531.5 889.5,537.5 890.5,536.5 891.5,529.5 892.5,529.5 893.5,537.5 893.5,536.5 894.5,531.5 895.5,529.5 896.5,536.5 897.5,536.5 898.5,536.5 899.5,536.5 900.5,531.5 900.5,528.5 901.5,531.5 902.5,531.5 903.5,530.5 904.5,537.5 905.5,532.5 906.5,530.5 907.5,530.5 907.5,536.5 908.5,529.5 909.5,532.5 910.5,536.5 911.5,536.5 912.5,531.5 913.5,529.5 914.5,531.5 914.5,530.5 915.5,536.5 916.5,530.5 917.5,529.5 918.5,527.5 919.5,531.5 920.5,530.5 921.5,529.5 921.5,536.5 922.5,537.5 923.5,536.5 924.5,537.5 925.5,536.5 926.5,537.5 927.5,536.5 928.5,524.5 929.5,537.5 929.5,537.5 930.5,537.5 931.5,537.5 932.5,537.5 933.5,537.5 934.5,537.5 935.5,530.5 936.5,530.5 936.5,529.5 937.5,530.5 938.5,530.5 939.5,537.5 940.5,532.5 941.5,537.5 942.5,529.5 943.5,537.5 943.5,537.5 944.5,535.5 945.5,524.5 946.5,537.5 947.5,536.5 948.5,537.5 949.5,537.5 950.5,536.5 950.5,537.5 951.5,526.5 952.5,536.5 953.5,533.5 954.5,537.5 955.5,537.5 956.5,537.5 957.5,531.5 958.5,530.5 958.5,536.5 959.5,534.5 960.5,537.5 961.5,515.5 962.5,532.5 963.5,536.5 964.5,528.5 965.5,537.5 965.5,536.5 966.5,533.5 967.5,530.5 968.5,532.5 969.5,530.5 970.5,529.5 971.5,531.5 972.5,536.5 972.5,529.5 973.5,527.5 974.5,530.5 975.5,530.5 976.5,533.5 977.5,537.5 978.5,537.5 979.5,537.5 979.5,537.5 980.5,536.5 981.5,537.5 982.5,537.5 983.5,537.5 984.5,529.5 985.5,530.5 986.5,537.5 987.5,537.5 987.5,537.5 988.5,530.5 989.5,529.5 990.5,532.5 991.5,537.5 992.5,532.5 993.5,537.5 994.5,537.5 994.5,536.5 995.5,530.5 996.5,529.5 997.5,537.5 998.5,537.5 999.5,537.5 1000.5,530.5 1001.5,536.5 1001.5,537.5 1002.5,529.5 1003.5,529.5 1004.5,498.5 1005.5,527.5 1006.5,537.5 1007.5,537.5 1008.5,531.5 1008.5,529.5 1009.5,537.5 1010.5,530.5 1011.5,530.5 1012.5,531.5 1013.5,530.5 1014.5,527.5 1015.5,537.5 1015.5,528.5 1016.5,529.5 1017.5,533.5 1018.5,531.5 1019.5,529.5 1020.5,532.5 1021.5,530.5 1022.5,530.5 1023.5,530.5 1023.5,531.5 1024.5,530.5 1025.5,533.5 1026.5,529.5 1027.5,529.5 1028.5,533.5 1029.5,537.5 1030.5,526.5 1030.5,537.5 1031.5,537.5 1032.5,528.5 1033.5,537.5 1034.5,527.5 1035.5,536.5 1036.5,523.5 1037.5,537.5 1037.5,537.5 1038.5,530.5 1039.5,529.5 1040.5,537.5 1041.5,530.5 1042.5,531.5 1043.5,530.5 1044.5,536.5 1044.5,536.5 1045.5,536.5 1046.5,536.5 1047.5,537.5 1048.5,537.5 1049.5,537.5 1050.5,515.5 1051.5,527.5 1052.5,530.5 1052.5,530.5 1053.5,531.5 1054.5,531.5 1055.5,531.5 1056.5,529.5 1057.5,529.5 1058.5,537.5 1059.5,537.5 1059.5,535.5 1060.5,534.5 1061.5,529.5 1062.5,537.5 1063.5,536.5 1064.5,530.5 1065.5,537.5 1066.5,529.5 1066.5,535.5 1067.5,536.5 1068.5,537.5 1069.5,537.5 1070.5,529.5 1071.5,537.5 1072.5,537.5 1073.5,537.5 1073.5,537.5 1074.5,536.5 1075.5,537.5 1076.5,537.5 1077.5,537.5 1078.5,537.5 1079.5,529.5 1080.5,530.5 1080.5,529.5 1081.5,531.5 1082.5,529.5 1083.5,530.5 1084.5,529.5 1085.5,530.5 1086.5,530.5 1087.5,537.5 1088.5,537.5 1088.5,529.5 1089.5,530.5 1090.5,537.5 1091.5,535.5 1092.5,500.5 1093.5,527.5 1094.5,537.5 1095.5,537.5 1095.5,537.5 1096.5,537.5 1097.5,537.5 1098.5,536.5 1099.5,537.5 1100.5,536.5 1101.5,536.5 1102.5,531.5 1102.5,537.5 1103.5,531.5 1104.5,531.5 1105.5,537.5 1106.5,535.5 1107.5,537.5 1108.5,536.5 1109.5,529.5 1109.5,537.5 1110.5,525.5 1111.5,530.5 1112.5,530.5 1113.5,530.5 1114.5,535.5 1115.5,530.5 1116.5,537.5 1117.5,527.5 1117.5,537.5 1118.5,537.5 1119.5,537.5 1120.5,530.5 1121.5,536.5 1122.5,536.5 1123.5,535.5 1124.5,529.5 1124.5,529.5 1125.5,537.5 1126.5,536.5 1127.5,531.5 1128.5,529.5 1129.5,529.5 1130.5,530.5 1131.5,529.5 1131.5,537.5 1132.5,530.5 1133.5,534.5 1134.5,529.5 1135.5,529.5 1136.5,528.5 1137.5,524.5 1138.5,530.5 1138.5,529.5 1139.5,529.5 1140.5,530.5 1141.5,523.5 1142.5,529.5 1143.5,525.5 1144.5,524.5 1145.5,537.5 1146.5,523.5 1146.5,537.5 1147.5,528.5 1148.5,529.5 1149.5,530.5 1150.5,530.5 1151.5,530.5 1152.5,531.5 1153.5,529.5 1153.5,530.5 1154.5,537.5 1155.5,529.5 1156.5,524.5 1157.5,533.5 1158.5,536.5 1159.5,537.5 1160.5,537.5 1160.5,537.5 1161.5,536.5 1162.5,537.5 1163.5,537.5 1164.5,537.5 1165.5,536.5 1166.5,537.5 1167.5,529.5 1167.5,529.5 1168.5,536.5 1169.5,536.5 1170.5,530.5 1171.5,530.5 1172.5,530.5 1173.5,531.5 1174.5,537.5 1174.5,529.5 1175.5,531.5 1176.5,530.5 1177.5,530.5 1178.5,530.5 1179.5,526.5 1180.5,537.5 1181.5,531.5 1182.5,537.5 1182.5,537.5 1183.5,536.5 1184.5,537.5 1185.5,537.5 1186.5,537.5 1187.5,526.5 1188.5,529.5 1189.5,536.5 1189.5,536.5 1190.5,533.5 1191.5,536.5 1192.5,537.5 1193.5,536.5 1194.5,529.5 1195.5,537.5 1196.5,537.5 1196.5,537.5 1197.5,530.5 1198.5,530.5 1199.5,531.5 1200.5,537.5 1201.5,537.5 1202.5,536.5 1203.5,529.5 1203.5,530.5 1204.5,529.5 1205.5,530.5 1206.5,529.5 1207.5,537.5 1208.5,536.5 1209.5,537.5 1210.5,532.5 1211.5,536.5 1211.5,536.5 1212.5,537.5 1213.5,529.5 1214.5,526.5 1215.5,530.5 1216.5,531.5 1217.5,531.5 1218.5,529.5 1218.5,537.5 1219.5,529.5 1220.5,530.5 1221.5,537.5 1222.5,537.5 1223.5,531.5 1224.5,531.5 1225.5,537.5 1225.5,536.5 1226.5,537.5 1227.5,515.5 1228.5,531.5 1229.5,531.5 1230.5,530.5 1231.5,529.5 1232.5,536.5 1232.5,529.5 1233.5,529.5 1234.5,530.5 1235.5,536.5 1236.5,536.5 1237.5,537.5 1238.5,536.5 1239.5,537.5 1240.5,537.5 1240.5,529.5 1241.5,529.5 1242.5,530.5 1243.5,536.5 1244.5,536.5 1245.5,530.5 1246.5,529.5 1247.5,524.5 1247.5,537.5 1248.5,537.5 1249.5,527.5 1250.5,537.5 1251.5,531.5 1252.5,536.5 1253.5,530.5 1254.5,531.5 1254.5,533.5 1255.5,524.5 1256.5,536.5 1257.5,535.5 1258.5,529.5 1259.5,537.5 1260.5,529.5 1261.5,530.5 1261.5,530.5 1262.5,530.5 1263.5,529.5 1264.5,537.5 1265.5,536.5 1266.5,529.5 1267.5,529.5 1268.5,534.5 1268.5,536.5 1269.5,537.5 1270.5,536.5 1271.5,536.5 1272.5,537.5 1273.5,536.5 1274.5,529.5 1275.5,530.5 1276.5,530.5 1276.5,529.5 1277.5,530.5 1278.5,537.5 1279.5,537.5 1280.5,537.5 1281.5,536.5 1282.5,536.5 1283.5,531.5 1283.5,531.5 1284.5,529.5 1285.5,536.5 1286.5,537.5 1287.5,530.5 1288.5,537.5 1289.5,526.5 1290.5,537.5 1290.5,527.5 1291.5,537.5 1292.5,536.5 1293.5,536.5 1294.5,537.5 1295.5,537.5 1296.5,529.5 1297.5,531.5 1297.5,529.5 1298.5,536.5 1299.5,537.5 1300.5,535.5 1301.5,531.5 1302.5,527.5 1303.5,529.5 1304.5,537.5 1305.5,537.5 1305.5,530.5 1306.5,530.5 1307.5,537.5 1308.5,537.5 1309.5,537.5 1310.5,537.5 1311.5,536.5 1312.5,537.5 1312.5,537.5 1313.5,536.5 1314.5,537.5 1315.5,537.5 1316.5,516.5 1317.5,530.5 1318.5,537.5 1319.5,537.5 1319.5,530.5 1320.5,530.5 1321.5,530.5 1322.5,536.5 1323.5,536.5 1324.5,536.5 1325.5,536.5 1326.5,536.5 1326.5,529.5 1327.5,531.5 1328.5,537.5 1329.5,537.5 1330.5,531.5 1331.5,530.5 1332.5,531.5 1333.5,531.5 1333.5,529.5 1334.5,530.5 1335.5,529.5 1336.5,530.5 1337.5,537.5 1338.5,529.5 1339.5,530.5 1340.5,531.5 1341.5,524.5 1341.5,537.5 1342.5,537.5 1343.5,537.5 1344.5,537.5 1345.5,537.5 1346.5,537.5 1347.5,530.5 1348.5,529.5 1348.5,529.5 1349.5,530.5 1350.5,534.5 1351.5,537.5 1352.5,537.5 1353.5,536.5 1354.5,537.5 1355.5,537.5 1355.5,537.5 1356.5,531.5 1357.5,525.5 1358.5,524.5 1359.5,529.5 1360.5,530.5 1361.5,536.5 1362.5,531.5 1362.5,536.5 154.5,529.5 153.5,530.5 152.5,530.5 151.5,529.5 150.5,537.5 149.5,530.5 148.5,536.5 148.5,537.5 147.5,537.5 146.5,537.5 145.5,537.5 144.5,530.5 143.5,535.5 142.5,525.5 141.5,530.5 141.5,536.5 140.5,532.5 139.5,537.5 138.5,537.5 137.5,530.5 136.5,526.5 135.5,529.5 134.5,536.5 134.5,525.5 133.5,524.5 132.5,530.5 131.5,530.5 130.5,529.5 129.5,536.5 128.5,536.5 127.5,536.5 126.5,537.5 126.5,536.5 125.5,530.5 124.5,536.5 123.5,537.5 122.5,537.5 121.5,529.5 120.5,530.5 119.5,530.5 119.5,530.5 118.5,529.5 117.5,537.5 116.5,537.5 115.5,537.5 114.5,537.5 113.5,530.5 112.5,529.5 112.5,530.5 111.5,536.5 110.5,523.5 109.5,534.5 108.5,537.5 107.5,536.5 106.5,529.5 105.5,529.5 105.5,530.5 104.5,536.5 103.5,530.5"/>
<polyline stroke="#00c000" points="154.2,529.6 204.3,537.1 209.6,537.1"/>
<polyline stroke="#0080ff" points="209.5,527.5 210.5,526.5 211.5,526.5 212.5,526.5 213.5,526.5 213.5,537.5 214.5,527.5 215.5,537.5 216.5,527.5 217.5,525.5 218.5,527.5 219.5,537.5 220.5,526.5 220.5,524.5 221.5,527.5 222.5,527.5 223.5,526.5 224.5,526.5 225.5,527.5 226.5,537.5 227.5,527.5 228.5,524.5 228.5,527.5 229.5,527.5 230.5,537.5 231.5,527.5 232.5,536.5 233.5,526.5 234.5,527.5 235.5,534.5 235.5,527.5 236.5,527.5 237.5,527.5 238.5,537.5 239.5,527.5 240.5,527.5 241.5,537.5 242.5,526.5 242.5,528.5 243.5,527.5 244.5,527.5 245.5,537.5 246.5,527.5 247.5,524.5 248.5,527.5 249.5,526.5 249.5,527.5 250.5,527.5 251.5,526.5 252.5,536.5 253.5,526.5 254.5,526.5 255.5,526.5 256.5,527.5 256.5,526.5 257.5,537.5 258.5,527.5 259.5,534.5 260.5,527.5 261.5,527.5 262.5,527.5 263.5,526.5 264.5,537.5 264.5,526.5 265.5,527.5 266.5,526.5 267.5,526.5 268.5,526.5 269.5,537.5 270.5,527.5 271.5,530.5 271.5,527.5 272.5,527.5 273.5,526.5 274.5,537.5 275.5,526.5 276.5,527.5 277.5,537.5 278.5,527.5 278.5,526.5 279.5,527.5 280.5,526.5 281.5,526.5 282.5,527.5 283.5,526.5 284.5,527.5 285.5,536.5 285.5,527.5 286.5,526.5 287.5,526.5 288.5,526.5 289.5,527.5 290.5,533.5 291.5,527.5 292.5,534.5 293.5,527.5 293.5,527.5 294.5,526.5 295.5,527.5 296.5,537.5 297.5,527.5 298.5,524.5 299.5,526.5 300.5,537.5 300.5,527.5 301.5,525.5 302.5,526.5 303.5,527.5 304.5,524.5 305.5,526.5 306.5,526.5 307.5,537.5 307.5,527.5 308.5,525.5 309.5,526.5 310.5,536.5 311.5,527.5 312.5,527.5 313.5,526.5 314.5,530.5 314.5,527.5 315.5,526.5 316.5,526.5 317.5,537.5 318.5,527.5 319.5,536.5 320.5,526.5 321.5,537.5 321.5,526.5 322.5,527.5 323.5,527.5 324.5,527.5 325.5,527.5 326.5,537.5 327.5,527.5 328.5,527.5 329.5,525.5 329.5,537.5 330.5,526.5 331.5,527.5 332.5,527.5 333.5,536.5 334.5,527.5 335.5,531.5 336.5,526.5 336.5,537.5 337.5,526.5 338.5,526.5 339.5,536.5 340.5,527.5 341.5,536.5 342.5,527.5 343.5,527.5 343.5,526.5 344.5,533.5 345.5,526.5 346.5,526.5 347.5,536.5 348.5,527.5 349.5,527.5 350.5,526.5 350.5,527.5 351.5,527.5 352.5,526.5 353.5,527.5 354.5,525.5 355.5,527.5 356.5,527.5 357.5,526.5 358.5,526.5 358.5,527.5 359.5,527.5 360.5,537.5 361.5,527.5 362.5,526.5 363.5,527.5 364.5,525.5 365.5,526.5 365.5,532.5 366.5,526.5 367.5,527.5 368.5,527.5 369.5,527.5 370.5,526.5 371.5,527.5 372.5,526.5 372.5,537.5 373.5,527.5 374.5,526.5 375.5,527.5 376.5,527.5 377.5,526.5 378.5,526.5 379.5,527.5 379.5,526.5 380.5,526.5 381.5,527.5 382.5,526.5 383.5,536.5 384.5,527.5 385.5,526.5 386.5,536.5 387.5,526.5 387.5,537.5 388.5,527.5 389.5,527.5 390.5,527.5 391.5,527.5 392.5,537.5 393.5,526.5 394.5,527.5 394.5,537.5 395.5,526.5 396.5,524.5 397.5,534.5 398.5,526.5 399.5,526.5 400.5,527.5 401.5,526.5 401.5,532.5 402.5,526.5 403.5,526.5 404.5,537.5 405.5,526.5 406.5,536.5 407.5,527.5 408.5,526.5 408.5,529.5 409.5,526.5 410.5,537.5 411.5,526.5 412.5,536.5 413.5,527.5 414.5,537.5 415.5,527.5 415.5,527.5 416.5,526.5 417.5,524.5 418.5,526.5 419.5,537.5 420.5,527.5 421.5,527.5 422.5,527.5 423.5,526.5 423.5,525.5 424.5,527.5 425.5,533.5 426.5,527.5 427.5,524.5 428.5,526.5 429.5,537.5 430.5,526.5 430.5,533.5 431.5,527.5 432.5,527.5 433.5,526.5 434.5,526.5 435.5,527.5 436.5,526.5 437.5,527.5 437.5,526.5 438.5,537.5 439.5,526.5 440.5,527.5 441.5,536.5 442.5,526.5 443.5,527.5 444.5,526.5 444.5,524.5 445.5,537.5 446.5,527.5 447.5,537.5 448.5,527.5 449.5,537.5 450.5,527.5 451.5,527.5 452.5,527.5 452.5,537.5 453.5,527.5 454.5,526.5 455.5,526.5 456.5,527.5 457.5,527.5 458.5,526.5 459.5,527.5 459.5,537.5 460.5,527.5 461.5,527.5 462.5,525.5 463.5,527.5 464.5,526.5 465.5,526.5 466.5,526.5 466.5,526.5 467.5,527.5 468.5,527.5 469.5,526.5 470.5,527.5 471.5,526.5 472.5,537.5 473.5,526.5 473.5,536.5 474.5,527.5 475.5,529.5 476.5,527.5 477.5,531.5 478.5,526.5 479.5,527.5 480.5,537.5 481.5,526.5 481.5,537.5 482.5,527.5 483.5,527.5 484.5,526.5 485.5,526.5 486.5,526.5 487.5,526.5 488.5,526.5 488.5,536.5 489.5,526.5 490.5,526.5 491.5,527.5 492.5,530.5 493.5,526.5 494.5,527.5 495.5,527.5 495.5,524.5 496.5,536.5 497.5,526.5 498.5,527.5 499.5,527.5 500.5,536.5 501.5,527.5 502.5,537.5 502.5,527.5 503.5,527.5 504.5,525.5 505.5,537.5 506.5,527.5 507.5,527.5 508.5,527.5 509.5,534.5 509.5,526.5 510.5,537.5 511.5,527.5 512.5,527.5 513.5,527.5 514.5,526.5 515.5,526.5 516.5,526.5 517.5,527.5 517.5,527.5 518.5,537.5 519.5,527.5 520.5,526.5 521.5,536.5 522.5,526.5 523.5,526.5 524.5,527.5 524.5,527.5 525.5,526.5 526.5,536.5 527.5,526.5 528.5,536.5 529.5,527.5 530.5,526.5 531.5,527.5 531.5,527.5 532.5,524.5 533.5,524.5 534.5,536.5 535.5,526.5 536.5,526.5 537.5,527.5 538.5,525.5 538.5,527.5 539.5,527.5 540.5,527.5 541.5,527.5 542.5,532.5 543.5,527.5 544.5,537.5 545.5,527.5 546.5,527.5 546.5,536.5 547.5,527.5 548.5,527.5 549.5,537.5 550.5,527.5 551.5,526.5 552.5,526.5 553.5,527.5 553.5,526.5 554.5,527.5 555.5,536.5 556.5,526.5 557.5,537.5 558.5,527.5 559.5,537.5 560.5,527.5 560.5,531.5 561.5,527.5 562.5,526.5 563.5,526.5 564.5,527.5 565.5,526.5 566.5,537.5 567.5,526.5 567.5,527.5 568.5,526.5 569.5,525.5 570.5,536.5 571.5,527.5 572.5,526.5 573.5,527.5 574.5,526.5 574.5,527.5 575.5,527.5 576.5,537.5 577.5,526.5 578.5,536.5 579.5,526.5 580.5,526.5 581.5,531.5 582.5,526.5 582.5,527.5 583.5,536.5 584.5,527.5 585.5,537.5 586.5,527.5 587.5,537.5 588.5,527.5 589.5,536.5 589.5,527.5 590.5,527.5 591.5,530.5 592.5,527.5 593.5,526.5 594.5,535.5 595.5,526.5 596.5,534.5 596.5,526.5 597.5,526.5 598.5,527.5 599.5,527.5 600.5,526.5 601.5,524.5 602.5,527.5 603.5,527.5 603.5,537.5 604.5,527.5 605.5,537.5 606.5,526.5 607.5,536.5 608.5,527.5 609.5,537.5 610.5,527.5 611.5,527.5 611.5,536.5 612.5,527.5 613.5,535.5 614.5,526.5 615.5,524.5 616.5,527.5 617.5,537.5 618.5,526.5 618.5,536.5 619.5,527.5 620.5,526.5 621.5,536.5 622.5,527.5 623.5,536.5 624.5,526.5 625.5,527.5 625.5,526.5 626.5,537.5 627.5,527.5 628.5,526.5 629.5,527.5 630.5,527.5 631.5,537.5 632.5,527.5 632.5,527.5 633.5,526.5 634.5,524.5 635.5,527.5 636.5,537.5 637.5,527.5 638.5,537.5 639.5,527.5 640.5,526.5 640.5,526.5 641.5,536.5 642.5,526.5 643.5,526.5 644.5,527.5 645.5,527.5 646.5,527.5 647.5,527.5 647.5,532.5 648.5,527.5 649.5,527.5 650.5,527.5 651.5,536.5 652.5,526.5 653.5,527.5 654.5,526.5 654.5,526.5 655.5,526.5 656.5,527.5 657.5,524.5 658.5,527.5 659.5,526.5 660.5,537.5 661.5,527.5 661.5,527.5 662.5,526.5 663.5,536.5 664.5,527.5 665.5,527.5 666.5,527.5 667.5,526.5 668.5,524.5 668.5,526.5 669.5,527.5 670.5,527.5 671.5,526.5 672.5,536.5 673.5,527.5 674.5,527.5 675.5,526.5 676.5,526.5 676.5,526.5 677.5,526.5 678.5,537.5 679.5,526.5 680.5,527.5 681.5,537.5 682.5,527.5 683.5,537.5 683.5,526.5 684.5,537.5 685.5,527.5 686.5,527.5 687.5,525.5 688.5,536.5 689.5,527.5 690.5,527.5 690.5,525.5 691.5,526.5 692.5,526.5 693.5,527.5 694.5,527.5 695.5,526.5 696.5,526.5 697.5,529.5 697.5,527.5 698.5,526.5 699.5,537.5 700.5,527.5 701.5,525.5 702.5,527.5 703.5,526.5 704.5,527.5 705.5,526.5 705.5,525.5 706.5,527.5 707.5,527.5 708.5,527.5 709.5,527.5 710.5,526.5 711.5,526.5 712.5,527.5 712.5,527.5 713.5,526.5 714.5,527.5 715.5,526.5 716.5,537.5 717.5,526.5 718.5,532.5 719.5,527.5 719.5,527.5 720.5,525.5 721.5,526.5 722.5,536.5 723.5,527.5 724.5,526.5 725.5,527.5 726.5,533.5 726.5,527.5 727.5,527.5 728.5,527.5 729.5,527.5 730.5,526.5 731.5,527.5 732.5,526.5 733.5,526.5 734.5,537.5 734.5,526.5 735.5,527.5 736.5,527.5 737.5,527.5 738.5,537.5 739.5,527.5 740.5,526.5 741.5,537.5 741.5,527.5 742.5,527.5 743.5,527.5 744.5,527.5 745.5,526.5 746.5,527.5 747.5,527.5 748.5,526.5 748.5,537.5 749.5,527.5 750.5,537.5 751.5,527.5 752.5,527.5 753.5,537.5 754.5,527.5 755.5,526.5 755.5,526.5 756.5,527.5 757.5,527.5 758.5,526.5 759.5,527.5 760.5,527.5 761.5,526.5 762.5,526.5 762.5,536.5 763.5,526.5 764.5,526.5 765.5,527.5 766.5,527.5 767.5,526.5 768.5,526.5 769.5,527.5 770.5,526.5 770.5,537.5 771.5,527.5 772.5,525.5 773.5,534.5 774.5,527.5 775.5,535.5 776.5,527.5 777.5,527.5 777.5,526.5 778.5,526.5 779.5,537.5 780.5,527.5 781.5,526.5 782.5,537.5 783.5,527.5 784.5,536.5 784.5,527.5 785.5,535.5 786.5,527.5 787.5,527.5 788.5,526.5 789.5,526.5 790.5,525.5 791.5,537.5 791.5,526.5 792.5,527.5 793.5,527.5 794.5,537.5 795.5,526.5 796.5,526.5 797.5,527.5 798.5,527.5 799.5,527.5 799.5,526.5 800.5,536.5 801.5,527.5 802.5,526.5 803.5,526.5 804.5,527.5 805.5,526.5 806.5,527.5 806.5,526.5 807.5,537.5 808.5,526.5 809.5,527.5 810.5,534.5 811.5,527.5 812.5,527.5 813.5,526.5 813.5,527.5 814.5,537.5 815.5,527.5 816.5,537.5 817.5,527.5 818.5,526.5 819.5,526.5 820.5,527.5 820.5,527.5 821.5,536.5 822.5,527.5 823.5,527.5 824.5,536.5 825.5,526.5 826.5,527.5 827.5,536.5 827.5,526.5 828.5,526.5 829.5,537.5 830.5,526.5 831.5,527.5 832.5,526.5 833.5,526.5 834.5,526.5 835.5,527.5 835.5,535.5 836.5,527.5 837.5,526.5 838.5,527.5 839.5,527.5 840.5,527.5 841.5,536.5 842.5,526.5 842.5,524.5 843.5,537.5 844.5,526.5 845.5,526.5 846.5,527.5 847.5,527.5 848.5,526.5 849.5,536.5 849.5,527.5 850.5,533.5 851.5,526.5 852.5,525.5 853.5,536.5 854.5,527.5 855.5,526.5 856.5,526.5 856.5,536.5 857.5,527.5 858.5,527.5 859.5,527.5 860.5,520.5 861.5,537.5 862.5,527.5 863.5,530.5 864.5,526.5 864.5,527.5 865.5,526.5 866.5,526.5 867.5,527.5 868.5,527.5 869.5,527.5 870.5,537.5 871.5,526.5 871.5,526.5 872.5,525.5 873.5,537.5 874.5,527.5 875.5,537.5 876.5,527.5 877.5,536.5 878.5,527.5 878.5,526.5 879.5,535.5 880.5,527.5 881.5,527.5 882.5,526.5 883.5,527.5 884.5,527.5 885.5,537.5 885.5,526.5 886.5,526.5 887.5,527.5 888.5,524.5 889.5,537.5 890.5,526.5 891.5,527.5 892.5,527.5 893.5,537.5 893.5,527.5 894.5,530.5 895.5,527.5 896.5,524.5 897.5,526.5 898.5,527.5 899.5,526.5 900.5,526.5 900.5,537.5 901.5,526.5 902.5,537.5 903.5,527.5 904.5,527.5 905.5,527.5 906.5,537.5 907.5,527.5 907.5,529.5 908.5,527.5 909.5,527.5 910.5,527.5 911.5,535.5 912.5,527.5 913.5,526.5 914.5,527.5 914.5,527.5 915.5,536.5 916.5,527.5 917.5,527.5 918.5,527.5 919.5,526.5 920.5,527.5 921.5,526.5 921.5,537.5 922.5,527.5 923.5,527.5 924.5,537.5 925.5,527.5 926.5,527.5 927.5,536.5 928.5,526.5 929.5,524.5 929.5,527.5 930.5,527.5 931.5,527.5 932.5,526.5 933.5,527.5 934.5,527.5 935.5,526.5 936.5,527.5 936.5,537.5 937.5,526.5 938.5,536.5 939.5,526.5 940.5,526.5 941.5,537.5 942.5,527.5 943.5,537.5 943.5,526.5 944.5,527.5 945.5,524.5 946.5,536.5 947.5,527.5 948.5,537.5 949.5,527.5 950.5,527.5 950.5,537.5 951.5,527.5 952.5,527.5 953.5,526.5 954.5,527.5 955.5,526.5 956.5,527.5 957.5,537.5 958.5,527.5 958.5,527.5 959.5,537.5 960.5,527.5 961.5,525.5 962.5,526.5 963.5,526.5 964.5,526.5 965.5,527.5 965.5,537.5 966.5,526.5 967.5,524.5 968.5,524.5 969.5,527.5 970.5,536.5 971.5,526.5 972.5,527.5 972.5,526.5 973.5,536.5 974.5,526.5 975.5,537.5 976.5,527.5 977.5,525.5 978.5,537.5 979.5,527.5 979.5,527.5 980.5,525.5 981.5,526.5 982.5,527.5 983.5,524.5 984.5,525.5 985.5,527.5 986.5,526.5 987.5,527.5 987.5,526.5 988.5,527.5 989.5,526.5 990.5,527.5 991.5,524.5 992.5,526.5 993.5,537.5 994.5,527.5 994.5,526.5 995.5,527.5 996.5,537.5 997.5,527.5 998.5,525.5 999.5,536.5 1000.5,527.5 1001.5,527.5 1001.5,526.5 1002.5,527.5 1003.5,526.5 1004.5,526.5 1005.5,527.5 1006.5,537.5 1007.5,527.5 1008.5,526.5 1008.5,537.5 1009.5,526.5 1010.5,526.5 1011.5,536.5 1012.5,526.5 1013.5,537.5 1014.5,526.5 1015.5,535.5 1015.5,527.5 1016.5,537.5 1017.5,527.5 1018.5,527.5 1019.5,537.5 1020.5,527.5 1021.5,527.5 1022.5,527.5 1023.5,529.5 1023.5,527.5 1024.5,526.5 1025.5,527.5 1026.5,527.5 1027.5,526.5 1028.5,526.5 1029.5,526.5 1030.5,526.5 1030.5,537.5 1031.5,527.5 1032.5,527.5 1033.5,534.5 1034.5,526.5 1035.5,526.5 1036.5,524.5 1037.5,527.5 1037.5,527.5 1038.5,527.5 1039.5,530.5 1040.5,526.5 1041.5,527.5 1042.5,529.5 1043.5,527.5 1044.5,537.5 1044.5,526.5 1045.5,524.5 1046.5,526.5 1047.5,527.5 1048.5,527.5 1049.5,526.5 1050.5,526.5 1051.5,526.5 1052.5,526.5 1052.5,527.5 1053.5,527.5 1054.5,537.5 1055.5,526.5 1056.5,536.5 1057.5,527.5 1058.5,524.5 1059.5,527.5 1059.5,527.5 1060.5,527.5 1061.5,527.5 1062.5,534.5 1063.5,527.5 1064.5,527.5 1065.5,526.5 1066.5,533.5 1066.5,526.5 1067.5,536.5 1068.5,527.5 1069.5,526.5 1070.5,527.5 1071.5,526.5 1072.5,526.5 1073.5,527.5 1073.5,525.5 1074.5,526.5 1075.5,525.5 1076.5,533.5 1077.5,526.5 1078.5,526.5 1079.5,527.5 1080.5,536.5 1080.5,527.5 1081.5,526.5 1082.5,527.5 1083.5,526.5 1084.5,526.5 1085.5,527.5 1086.5,527.5 1087.5,537.5 1088.5,527.5 1088.5,526.5 1089.5,526.5 1090.5,527.5 1091.5,526.5 1092.5,527.5 1093.5,529.5 1094.5,527.5 1095.5,527.5 1095.5,526.5 1096.5,527.5 1097.5,527.5 1098.5,529.5 1099.5,526.5 1100.5,527.5 1101.5,527.5 1102.5,526.5 1102.5,529.5 1103.5,527.5 1104.5,529.5 1105.5,526.5 1106.5,526.5 1107.5,526.5 1108.5,527.5 1109.5,536.5 1109.5,527.5 1110.5,527.5 1111.5,527.5 1112.5,536.5 1113.5,526.5 1114.5,536.5 1115.5,527.5 1116.5,537.5 1117.5,527.5 1117.5,537.5 1118.5,527.5 1119.5,527.5 1120.5,527.5 1121.5,526.5 1122.5,526.5 1123.5,526.5 1124.5,536.5 1124.5,527.5 1125.5,527.5 1126.5,527.5 1127.5,533.5 1128.5,527.5 1129.5,527.5 1130.5,526.5 1131.5,527.5 1131.5,527.5 1132.5,526.5 1133.5,526.5 1134.5,524.5 1135.5,527.5 1136.5,537.5 1137.5,526.5 1138.5,527.5 1138.5,527.5 1139.5,526.5 1140.5,527.5 1141.5,536.5 1142.5,527.5 1143.5,536.5 1144.5,526.5 1145.5,527.5 1146.5,527.5 1146.5,525.5 1147.5,527.5 1148.5,526.5 1149.5,527.5 1150.5,527.5 1151.5,526.5 1152.5,524.5 1153.5,537.5 1153.5,526.5 1154.5,537.5 1155.5,527.5 1156.5,536.5 1157.5,527.5 1158.5,527.5 1159.5,527.5 1160.5,527.5 1160.5,527.5 1161.5,524.5 1162.5,527.5 1163.5,527.5 1164.5,526.5 1165.5,536.5 1166.5,527.5 1167.5,526.5 1167.5,527.5 1168.5,537.5 1169.5,526.5 1170.5,527.5 1171.5,527.5 1172.5,527.5 1173.5,526.5 1174.5,537.5 1174.5,527.5 1175.5,536.5 1176.5,527.5 1177.5,537.5 1178.5,527.5 1179.5,526.5 1180.5,527.5 1181.5,526.5 1182.5,526.5 1182.5,526.5 1183.5,526.5 1184.5,537.5 1185.5,527.5 1186.5,527.5 1187.5,527.5 1188.5,527.5 1189.5,527.5 1189.5,527.5 1190.5,527.5 1191.5,526.5 1192.5,526.5 1193.5,537.5 1194.5,526.5 1195.5,526.5 1196.5,537.5 1196.5,526.5 1197.5,527.5 1198.5,526.5 1199.5,526.5 1200.5,527.5 1201.5,537.5 1202.5,527.5 1203.5,530.5 1203.5,526.5 1204.5,527.5 1205.5,526.5 1206.5,527.5 1207.5,526.5 1208.5,527.5 1209.5,536.5 1210.5,527.5 1211.5,524.5 1211.5,526.5 1212.5,526.5 1213.5,526.5 1214.5,527.5 1215.5,526.5 1216.5,527.5 1217.5,537.5 1218.5,526.5 1218.5,526.5 1219.5,526.5 1220.5,527.5 1221.5,527.5 1222.5,534.5 1223.5,527.5 1224.5,526.5 1225.5,527.5 1225.5,527.5 1226.5,537.5 1227.5,527.5 1228.5,532.5 1229.5,527.5 1230.5,524.5 1231.5,537.5 1232.5,527.5 1232.5,526.5 1233.5,527.5 1234.5,526.5 1235.5,526.5 1236.5,527.5 1237.5,527.5 1238.5,527.5 1239.5,526.5 1240.5,527.5 1240.5,527.5 1241.5,532.5 1242.5,527.5 1243.5,537.5 1244.5,527.5 1245.5,527.5 1246.5,526.5 1247.5,527.5 1247.5,537.5 1248.5,527.5 1249.5,526.5 1250.5,526.5 1251.5,527.5 1252.5,527.5 1253.5,536.5 1254.5,526.5 1254.5,527.5 1255.5,531.5 1256.5,527.5 1257.5,536.5 1258.5,526.5 1259.5,535.5 1260.5,527.5 1261.5,525.5 1261.5,527.5 1262.5,536.5 1263.5,526.5 1264.5,527.5 1265.5,527.5 1266.5,526.5 1267.5,534.5 1268.5,527.5 1268.5,526.5 1269.5,526.5 1270.5,537.5 1271.5,526.5 1272.5,526.5 1273.5,527.5 1274.5,537.5 1275.5,527.5 1276.5,537.5 1276.5,527.5 1277.5,527.5 1278.5,536.5 1279.5,527.5 1280.5,526.5 1281.5,526.5 1282.5,526.5 1283.5,526.5 1283.5,537.5 1284.5,527.5 1285.5,527.5 1286.5,527.5 1287.5,526.5 1288.5,528.5 1289.5,527.5 1290.5,526.5 1290.5,534.5 1291.5,527.5 1292.5,527.5 1293.5,527.5 1294.5,527.5 1295.5,535.5 1296.5,526.5 1297.5,527.5 1297.5,527.5 1298.5,537.5 1299.5,527.5 1300.5,527.5 1301.5,526.5 1302.5,527.5 1303.5,527.5 1304.5,526.5 1305.5,527.5 1305.5,537.5 1306.5,526.5 1307.5,531.5 1308.5,526.5 1309.5,527.5 1310.5,526.5 1311.5,526.5 1312.5,531.5 1312.5,526.5 1313.5,537.5 1314.5,527.5 1315.5,526.5 1316.5,526.5 1317.5,526.5 1318.5,537.5 1319.5,527.5 1319.5,526.5 1320.5,537.5 1321.5,527.5 1322.5,527.5 1323.5,527.5 1324.5,536.5 1325.5,527.5 1326.5,526.5 1326.5,527.5 1327.5,526.5 1328.5,527.5 1329.5,527.5 1330.5,527.5 1331.5,524.5 1332.5,527.5 1333.5,527.5 1333.5,526.5 1334.5,526.5 1335.5,526.5 1336.5,526.5 1337.5,527.5 1338.5,526.5 1339.5,527.5 1340.5,527.5 1341.5,527.5 1341.5,526.5 1342.5,527.5 1343.5,537.5 1344.5,526.5 1345.5,526.5 1346.5,527.5 1347.5,526.5 1348.5,537.5 1348.5,527.5 1349.5,526.5 1350.5,537.5 1351.5,527.5 1352.5,526.5 1353.5,527.5 1354.5,526.5 1355.5,526.5 1355.5,526.5 1356.5,536.5 1357.5,527.5 1358.5,527.5 1359.5,527.5 1360.5,536.5 1361.5,527.5 1362.5,536.5 1362.5,527.5 154.5,527.5 153.5,526.5 152.5,526.5 151.5,527.5 150.5,526.5 149.5,527.5 148.5,526.5 148.5,537.5 147.5,526.5 146.5,527.5 145.5,526.5 144.5,537.5 143.5,526.5 142.5,526.5 141.5,537.5 141.5,527.5 140.5,527.5 139.5,526.5 138.5,525.5 137.5,527.5 136.5,536.5 135.5,526.5 134.5,527.5 134.5,526.5 133.5,527.5 132.5,527.5 131.5,527.5 130.5,527.5 129.5,527.5 128.5,527.5 127.5,535.5 126.5,524.5 126.5,527.5 125.5,526.5 124.5,537.5 123.5,526.5 122.5,526.5 121.5,526.5 120.5,525.5 119.5,526.5 119.5,529.5 118.5,527.5 117.5,527.5 116.5,525.5 115.5,526.5 114.5,525.5 113.5,527.5 112.5,524.5 112.5,526.5 111.5,526.5 110.5,527.5 109.5,526.5 108.5,526.5 107.5,527.5 106.5,527.5 105.5,527.5 105.5,527.5 104.5,527.5 103.5,527.5"/>
</g>
<g shape-rendering="crispEdges">
<path d="M200 427h13v1h-13zM200 439h13v1h-13zM200 428h1v11h-1zM212 428h1v11h-1z" fill="#c000ff"/>
<rect x="200" y="481" width="13" height="13" fill="#00eeee"/>
<path d="M103 506h1v1h-1zM103 518h1v1h-1zM97 512h1v1h-1zM109 512h1v1h-1zM100 507h7v1h-7zM100 517h7v1h-7zM98 509h1v7h-1zM108 509h1v7h-1zM99 508h2v1h-2zM106 508h2v1h-2zM99 516h2v1h-2zM106 516h2v1h-2zM99 509h1v1h-1zM107 509h1v1h-1zM99 515h1v1h-1zM107 515h1v1h-1z" fill="#c04000"/>
<path d="M149 503h1v1h-1zM149 515h1v1h-1zM143 509h1v1h-1zM155 509h1v1h-1zM146 504h7v1h-7zM146 514h7v1h-7zM144 506h1v7h-1zM154 506h1v7h-1zM145 505h2v1h-2zM152 505h2v1h-2zM145 513h2v1h-2zM152 513h2v1h-2zM145 506h1v1h-1zM153 506h1v1h-1zM145 512h1v1h-1zM153 512h1v1h-1z" fill="#c04000"/>
<path d="M208 505h1v1h-1zM208 517h1v1h-1zM202 511h1v1h-1zM214 511h1v1h-1zM205 506h7v1h-7zM205 516h7v1h-7zM203 508h1v7h-1zM213 508h1v7h-1zM204 507h2v1h-2zM211 507h2v1h-2zM204 515h2v1h-2zM211 515h2v1h-2zM204 508h1v1h-1zM212 508h1v1h-1zM204 514h1v1h-1zM212 514h1v1h-1z" fill="#c04000"/>
<path d="M255 510h1v1h-1zM255 522h1v1h-1zM249 516h1v1h-1zM261 516h1v1h-1zM252 511h7v1h-7zM252 521h7v1h-7zM250 513h1v7h-1zM260 513h1v7h-1zM251 512h2v1h-2zM258 512h2v1h-2zM251 520h2v1h-2zM258 520h2v1h-2zM251 513h1v1h-1zM259 513h1v1h-1zM251 519h1v1h-1zM259 519h1v1h-1z" fill="#c04000"/>
<path d="M261 511h1v1h-1zM261 523h1v1h-1zM255 517h1v1h-1zM267 517h1v1h-1zM258 512h7v1h-7zM258 522h7v1h-7zM256 514h1v7h-1zM266 514h1v7h-1zM257 513h2v1h-2zM264 513h2v1h-2zM257 521h2v1h-2zM264 521h2v1h-2zM257 514h1v1h-1zM265 514h1v1h-1zM257 520h1v1h-1zM265 520h1v1h-1z" fill="#c04000"/>
<path d="M307 449h1v1h-1zM307 461h1v1h-1zM301 455h1v1h-1zM313 455h1v1h-1zM304 450h7v1h-7zM304 460h7v1h-7zM302 452h1v7h-1zM312 452h1v7h-1zM303 451h2v1h-2zM310 451h2v1h-2zM303 459h2v1h-2zM310 459h2v1h-2zM303 452h1v1h-1zM311 452h1v1h-1zM303 458h1v1h-1zM311 458h1v1h-1z" fill="#c04000"/>
<path d="M314 496h1v1h-1zM314 508h1v1h-1zM308 502h1v1h-1zM320 502h1v1h-1zM311 497h7v1h-7zM311 507h7v1h-7zM309 499h1v7h-1zM319 499h1v7h-1zM310 498h2v1h-2zM317 498h2v1h-2zM310 506h2v1h-2zM317 506h2v1h-2zM310 499h1v1h-1zM318 499h1v1h-1zM310 505h1v1h-1zM318 505h1v1h-1z" fill="#c04000"/>
<path d="M360 504h1v1h-1zM360 516h1v1h-1zM354 510h1v1h-1zM366 510h1v1h-1zM357 505h7v1h-7zM357 515h7v1h-7zM355 507h1v7h-1zM365 507h1v7h-1zM356 506h2v1h-2zM363 506h2v1h-2zM356 514h2v1h-2zM363 514h2v1h-2zM356 507h1v1h-1zM364 507h1v1h-1zM356 513h1v1h-1zM364 513h1v1h-1z" fill="#c04000"/>
<path d="M366 503h1v1h-1zM366 515h1v1h-1zM360 509h1v1h-1zM372 509h1v1h-1zM363 504h7v1h-7zM363 514h7v1h-7zM361 506h1v7h-1zM371 506h1v7h-1zM362 505h2v1h-2zM369 505h2v1h-2zM362 513h2v1h-2zM369 513h2v1h-2zM362 506h1v1h-1zM370 506h1v1h-1zM362 512h1v1h-1zM370 512h1v1h-1z" fill="#c04000"/>
<path d="M413 504h1v1h-1zM413 516h1v1h-1zM407 510h1v1h-1zM419 510h1v1h-1zM410 505h7v1h-7zM410 515h7v1h-7zM408 507h1v7h-1zM418 507h1v7h-1zM409 506h2v1h-2zM416 506h2v1h-2zM409 514h2v1h-2zM416 514h2v1h-2zM409 507h1v1h-1zM417 507h1v1h-1zM409 513h1v1h-1zM417 513h1v1h-1z" fill="#c04000"/>
<path d="M419 505h1v1h-1zM419 517h1v1h-1zM413 511h1v1h-1zM425 511h1v1h-1zM416 506h7v1h-7zM416 516h7v1h-7zM414 508h1v7h-1zM424 508h1v7h-1zM415 507h2v1h-2zM422 507h2v1h-2zM415 515h2v1h-2zM422 515h2v1h-2zM415 508h1v1h-1zM423 508h1v1h-1zM415 514h1v1h-1zM423 514h1v1h-1z" fill="#c04000"/>
<path d="M472 458h1v1h-1zM472 470h1v1h-1zM466 464h1v1h-1zM478 464h1v1h-1zM469 459h7v1h-7zM469 469h7v1h-7zM467 461h1v7h-1zM477 461h1v7h-1zM468 460h2v1h-2zM475 460h2v1h-2zM468 468h2v1h-2zM475 468h2v1h-2zM468 461h1v1h-1zM476 461h1v1h-1zM468 467h1v1h-1zM476 467h1v1h-1z" fill="#c04000"/>
<path d="M466 502h1v1h-1zM466 514h1v1h-1zM460 508h1v1h-1zM472 508h1v1h-1zM463 503h7v1h-7zM463 513h7v1h-7zM461 505h1v7h-1zM471 505h1v7h-1zM462 504h2v1h-2zM469 504h2v1h-2zM462 512h2v1h-2zM469 512h2v1h-2zM462 505h1v1h-1zM470 505h1v1h-1zM462 511h1v1h-1zM470 511h1v1h-1z" fill="#c04000"/>
<path d="M518 503h1v1h-1zM518 515h1v1h-1zM512 509h1v1h-1zM524 509h1v1h-1zM515 504h7v1h-7zM515 514h7v1h-7zM513 506h1v7h-1zM523 506h1v7h-1zM514 505h2v1h-2zM521 505h2v1h-2zM514 513h2v1h-2zM521 513h2v1h-2zM514 506h1v1h-1zM522 506h1v1h-1zM514 512h1v1h-1zM522 512h1v1h-1z" fill="#c04000"/>
<path d="M524 507h1v1h-1zM524 519h1v1h-1zM518 513h1v1h-1zM530 513h1v1h-1zM521 508h7v1h-7zM521 518h7v1h-7zM519 510h1v7h-1zM529 510h1v7h-1zM520 509h2v1h-2zM527 509h2v1h-2zM520 517h2v1h-2zM527 517h2v1h-2zM520 510h1v1h-1zM528 510h1v1h-1zM520 516h1v1h-1zM528 516h1v1h-1z" fill="#c04000"/>
<path d="M571 496h1v1h-1zM571 508h1v1h-1zM565 502h1v1h-1zM577 502h1v1h-1zM568 497h7v1h-7zM568 507h7v1h-7zM566 499h1v7h-1zM576 499h1v7h-1zM567 498h2v1h-2zM574 498h2v1h-2zM567 506h2v1h-2zM574 506h2v1h-2zM567 499h1v1h-1zM575 499h1v1h-1zM567 505h1v1h-1zM575 505h1v1h-1z" fill="#c04000"/>
<path d="M577 499h1v1h-1zM577 511h1v1h-1zM571 505h1v1h-1zM583 505h1v1h-1zM574 500h7v1h-7zM574 510h7v1h-7zM572 502h1v7h-1zM582 502h1v7h-1zM573 501h2v1h-2zM580 501h2v1h-2zM573 509h2v1h-2zM580 509h2v1h-2zM573 502h1v1h-1zM581 502h1v1h-1zM573 508h1v1h-1zM581 508h1v1h-1z" fill="#c04000"/>
<path d="M624 501h1v1h-1zM624 513h1v1h-1zM618 507h1v1h-1zM630 507h1v1h-1zM621 502h7v1h-7zM621 512h7v1h-7zM619 504h1v7h-1zM629 504h1v7h-1zM620 503h2v1h-2zM627 503h2v1h-2zM620 511h2v1h-2zM627 511h2v1h-2zM620 504h1v1h-1zM628 504h1v1h-1zM620 510h1v1h-1zM628 510h1v1h-1z" fill="#c04000"/>
<path d="M630 498h1v1h-1zM630 510h1v1h-1zM624 504h1v1h-1zM636 504h1v1h-1zM627 499h7v1h-7zM627 509h7v1h-7zM625 501h1v7h-1zM635 501h1v7h-1zM626 500h2v1h-2zM633 500h2v1h-2zM626 508h2v1h-2zM633 508h2v1h-2zM626 501h1v1h-1zM634 501h1v1h-1zM626 507h1v1h-1zM634 507h1v1h-1z" fill="#c04000"/>
<path d="M676 497h1v1h-1zM676 509h1v1h-1zM670 503h1v1h-1zM682 503h1v1h-1zM673 498h7v1h-7zM673 508h7v1h-7zM671 500h1v7h-1zM681 500h1v7h-1zM672 499h2v1h-2zM679 499h2v1h-2zM672 507h2v1h-2zM679 507h2v1h-2zM672 500h1v1h-1zM680 500h1v1h-1zM672 506h1v1h-1zM680 506h1v1h-1z" fill="#c04000"/>
<path d="M683 499h1v1h-1zM683 511h1v1h-1zM677 505h1v1h-1zM689 505h1v1h-1zM680 500h7v1h-7zM680 510h7v1h-7zM678 502h1v7h-1zM688 502h1v7h-1zM679 501h2v1h-2zM686 501h2v1h-2zM679 509h2v1h-2zM686 509h2v1h-2zM679 502h1v1h-1zM687 502h1v1h-1zM679 508h1v1h-1zM687 508h1v1h-1z" fill="#c04000"/>
<path d="M729 298h1v1h-1zM729 310h1v1h-1zM723 304h1v1h-1zM735 304h1v1h-1zM726 299h7v1h-7zM726 309h7v1h-7zM724 301h1v7h-1zM734 301h1v7h-1zM725 300h2v1h-2zM732 300h2v1h-2zM725 308h2v1h-2zM732 308h2v1h-2zM725 301h1v1h-1zM733 301h1v1h-1zM725 307h1v1h-1zM733 307h1v1h-1z" fill="#c04000"/>
<path d="M735 455h1v1h-1zM735 467h1v1h-1zM729 461h1v1h-1zM741 461h1v1h-1zM732 456h7v1h-7zM732 466h7v1h-7zM730 458h1v7h-1zM740 458h1v7h-1zM731 457h2v1h-2zM738 457h2v1h-2zM731 465h2v1h-2zM738 465h2v1h-2zM731 458h1v1h-1zM739 458h1v1h-1zM731 464h1v1h-1zM739 464h1v1h-1z" fill="#c04000"/>
<path d="M782 497h1v1h-1zM782 509h1v1h-1zM776 503h1v1h-1zM788 503h1v1h-1zM779 498h7v1h-7zM779 508h7v1h-7zM777 500h1v7h-1zM787 500h1v7h-1zM778 499h2v1h-2zM785 499h2v1h-2zM778 507h2v1h-2zM785 507h2v1h-2zM778 500h1v1h-1zM786 500h1v1h-1zM778 506h1v1h-1zM786 506h1v1h-1z" fill="#c04000"/>
<path d="M788 476h1v1h-1zM788 488h1v1h-1zM782 482h1v1h-1zM794 482h1v1h-1zM785 477h7v1h-7zM785 487h7v1h-7zM783 479h1v7h-1zM793 479h1v7h-1zM784 478h2v1h-2zM791 478h2v1h-2zM784 486h2v1h-2zM791 486h2v1h-2zM784 479h1v1h-1zM792 479h1v1h-1zM784 485h1v1h-1zM792 485h1v1h-1z" fill="#c04000"/>
<path d="M835 497h1v1h-1zM835 509h1v1h-1zM829 503h1v1h-1zM841 503h1v1h-1zM832 498h7v1h-7zM832 508h7v1h-7zM830 500h1v7h-1zM840 500h1v7h-1zM831 499h2v1h-2zM838 499h2v1h-2zM831 507h2v1h-2zM838 507h2v1h-2zM831 500h1v1h-1zM839 500h1v1h-1zM831 506h1v1h-1zM839 506h1v1h-1z" fill="#c04000"/>
<path d="M841 501h1v1h-1zM841 513h1v1h-1zM835 507h1v1h-1zM847 507h1v1h-1zM838 502h7v1h-7zM838 512h7v1h-7zM836 504h1v7h-1zM846 504h1v7h-1zM837 503h2v1h-2zM844 503h2v1h-2zM837 511h2v1h-2zM844 511h2v1h-2zM837 504h1v1h-1zM845 504h1v1h-1zM837 510h1v1h-1zM845 510h1v1h-1z" fill="#c04000"/>
<path d="M887 496h1v1h-1zM887 508h1v1h-1zM881 502h1v1h-1zM893 502h1v1h-1zM884 497h7v1h-7zM884 507h7v1h-7zM882 499h1v7h-1zM892 499h1v7h-1zM883 498h2v1h-2zM890 498h2v1h-2zM883 506h2v1h-2zM890 506h2v1h-2zM883 499h1v1h-1zM891 499h1v1h-1zM883 505h1v1h-1zM891 505h1v1h-1z" fill="#c04000"/>
<path d="M893 501h1v1h-1zM893 513h1v1h-1zM887 507h1v1h-1zM899 507h1v1h-1zM890 502h7v1h-7zM890 512h7v1h-7zM888 504h1v7h-1zM898 504h1v7h-1zM889 503h2v1h-2zM896 503h2v1h-2zM889 511h2v1h-2zM896 511h2v1h-2zM889 504h1v1h-1zM897 504h1v1h-1zM889 510h1v1h-1zM897 510h1v1h-1z" fill="#c04000"/>
<path d="M940 496h1v1h-1zM940 508h1v1h-1zM934 502h1v1h-1zM946 502h1v1h-1zM937 497h7v1h-7zM937 507h7v1h-7zM935 499h1v7h-1zM945 499h1v7h-1zM936 498h2v1h-2zM943 498h2v1h-2zM936 506h2v1h-2zM943 506h2v1h-2zM936 499h1v1h-1zM944 499h1v1h-1zM936 505h1v1h-1zM944 505h1v1h-1z" fill="#c04000"/>
<path d="M946 492h1v1h-1zM946 504h1v1h-1zM940 498h1v1h-1zM952 498h1v1h-1zM943 493h7v1h-7zM943 503h7v1h-7zM941 495h1v7h-1zM951 495h1v7h-1zM942 494h2v1h-2zM949 494h2v1h-2zM942 502h2v1h-2zM949 502h2v1h-2zM942 495h1v1h-1zM950 495h1v1h-1zM942 501h1v1h-1zM950 501h1v1h-1z" fill="#c04000"/>
<path d="M993 494h1v1h-1zM993 506h1v1h-1zM987 500h1v1h-1zM999 500h1v1h-1zM990 495h7v1h-7zM990 505h7v1h-7zM988 497h1v7h-1zM998 497h1v7h-1zM989 496h2v1h-2zM996 496h2v1h-2zM989 504h2v1h-2zM996 504h2v1h-2zM989 497h1v1h-1zM997 497h1v1h-1zM989 503h1v1h-1zM997 503h1v1h-1z" fill="#c04000"/>
<path d="M999 495h1v1h-1zM999 507h1v1h-1zM993 501h1v1h-1zM1005 501h1v1h-1zM996 496h7v1h-7zM996 506h7v1h-7zM994 498h1v7h-1zM1004 498h1v7h-1zM995 497h2v1h-2zM1002 497h2v1h-2zM995 505h2v1h-2zM1002 505h2v1h-2zM995 498h1v1h-1zM1003 498h1v1h-1zM995 504h1v1h-1zM1003 504h1v1h-1z" fill="#c04000"/>
<path d="M1045 492h1v1h-1zM1045 504h1v1h-1zM1039 498h1v1h-1zM1051 498h1v1h-1zM1042 493h7v1h-7zM1042 503h7v1h-7zM1040 495h1v7h-1zM1050 495h1v7h-1zM1041 494h2v1h-2zM1048 494h2v1h-2zM1041 502h2v1h-2zM1048 502h2v1h-2zM1041 495h1v1h-1zM1049 495h1v1h-1zM1041 501h1v1h-1zM1049 501h1v1h-1z" fill="#c04000"/>
<path d="M1052 496h1v1h-1zM1052 508h1v1h-1zM1046 502h1v1h-1zM1058 502h1v1h-1zM1049 497h7v1h-7zM1049 507h7v1h-7zM1047 499h1v7h-1zM1057 499h1v7h-1zM1048 498h2v1h-2zM1055 498h2v1h-2zM1048 506h2v1h-2zM1055 506h2v1h-2zM1048 499h1v1h-1zM1056 499h1v1h-1zM1048 505h1v1h-1zM1056 505h1v1h-1z" fill="#c04000"/>
<path d="M1098 496h1v1h-1zM1098 508h1v1h-1zM1092 502h1v1h-1zM1104 502h1v1h-1zM1095 497h7v1h-7zM1095 507h7v1h-7zM1093 499h1v7h-1zM1103 499h1v7h-1zM1094 498h2v1h-2zM1101 498h2v1h-2zM1094 506h2v1h-2zM1101 506h2v1h-2zM1094 499h1v1h-1zM1102 499h1v1h-1zM1094 505h1v1h-1zM1102 505h1v1h-1z" fill="#c04000"/>
<path d="M1104 495h1v1h-1zM1104 507h1v1h-1zM1098 501h1v1h-1zM1110 501h1v1h-1zM1101 496h7v1h-7zM1101 506h7v1h-7zM1099 498h1v7h-1zM1109 498h1v7h-1zM1100 497h2v1h-2zM1107 497h2v1h-2zM1100 505h2v1h-2zM1107 505h2v1h-2zM1100 498h1v1h-1zM1108 498h1v1h-1zM1100 504h1v1h-1zM1108 504h1v1h-1z" fill="#c04000"/>
<path d="M1151 504h1v1h-1zM1151 516h1v1h-1zM1145 510h1v1h-1zM1157 510h1v1h-1zM1148 505h7v1h-7zM1148 515h7v1h-7zM1146 507h1v7h-1zM1156 507h1v7h-1zM1147 506h2v1h-2zM1154 506h2v1h-2zM1147 514h2v1h-2zM1154 514h2v1h-2zM1147 507h1v1h-1zM1155 507h1v1h-1zM1147 513h1v1h-1zM1155 513h1v1h-1z" fill="#c04000"/>
<path d="M1157 500h1v1h-1zM1157 512h1v1h-1zM1151 506h1v1h-1zM1163 506h1v1h-1zM1154 501h7v1h-7zM1154 511h7v1h-7zM1152 503h1v7h-1zM1162 503h1v7h-1zM1153 502h2v1h-2zM1160 502h2v1h-2zM1153 510h2v1h-2zM1160 510h2v1h-2zM1153 503h1v1h-1zM1161 503h1v1h-1zM1153 509h1v1h-1zM1161 509h1v1h-1z" fill="#c04000"/>
<path d="M1203 497h1v1h-1zM1203 509h1v1h-1zM1197 503h1v1h-1zM1209 503h1v1h-1zM1200 498h7v1h-7zM1200 508h7v1h-7zM1198 500h1v7h-1zM1208 500h1v7h-1zM1199 499h2v1h-2zM1206 499h2v1h-2zM1199 507h2v1h-2zM1206 507h2v1h-2zM1199 500h1v1h-1zM1207 500h1v1h-1zM1199 506h1v1h-1zM1207 506h1v1h-1z" fill="#c04000"/>
<path d="M1210 503h1v1h-1zM1210 515h1v1h-1zM1204 509h1v1h-1zM1216 509h1v1h-1zM1207 504h7v1h-7zM1207 514h7v1h-7zM1205 506h1v7h-1zM1215 506h1v7h-1zM1206 505h2v1h-2zM1213 505h2v1h-2zM1206 513h2v1h-2zM1213 513h2v1h-2zM1206 506h1v1h-1zM1214 506h1v1h-1zM1206 512h1v1h-1zM1214 512h1v1h-1z" fill="#c04000"/>
<path d="M1256 502h1v1h-1zM1256 514h1v1h-1zM1250 508h1v1h-1zM1262 508h1v1h-1zM1253 503h7v1h-7zM1253 513h7v1h-7zM1251 505h1v7h-1zM1261 505h1v7h-1zM1252 504h2v1h-2zM1259 504h2v1h-2zM1252 512h2v1h-2zM1259 512h2v1h-2zM1252 505h1v1h-1zM1260 505h1v1h-1zM1252 511h1v1h-1zM1260 511h1v1h-1z" fill="#c04000"/>
<path d="M1262 502h1v1h-1zM1262 514h1v1h-1zM1256 508h1v1h-1zM1268 508h1v1h-1zM1259 503h7v1h-7zM1259 513h7v1h-7zM1257 505h1v7h-1zM1267 505h1v7h-1zM1258 504h2v1h-2zM1265 504h2v1h-2zM1258 512h2v1h-2zM1265 512h2v1h-2zM1258 505h1v1h-1zM1266 505h1v1h-1zM1258 511h1v1h-1zM1266 511h1v1h-1z" fill="#c04000"/>
<path d="M1309 502h1v1h-1zM1309 514h1v1h-1zM1303 508h1v1h-1zM1315 508h1v1h-1zM1306 503h7v1h-7zM1306 513h7v1h-7zM1304 505h1v7h-1zM1314 505h1v7h-1zM1305 504h2v1h-2zM1312 504h2v1h-2zM1305 512h2v1h-2zM1312 512h2v1h-2zM1305 505h1v1h-1zM1313 505h1v1h-1zM1305 511h1v1h-1zM1313 511h1v1h-1z" fill="#c04000"/>
<path d="M1315 503h1v1h-1zM1315 515h1v1h-1zM1309 509h1v1h-1zM1321 509h1v1h-1zM1312 504h7v1h-7zM1312 514h7v1h-7zM1310 506h1v7h-1zM1320 506h1v7h-1zM1311 505h2v1h-2zM1318 505h2v1h-2zM1311 513h2v1h-2zM1318 513h2v1h-2zM1311 506h1v1h-1zM1319 506h1v1h-1zM1311 512h1v1h-1zM1319 512h1v1h-1z" fill="#c04000"/>
<path d="M1362 507h1v1h-1zM1362 519h1v1h-1zM1356 513h1v1h-1zM1368 513h1v1h-1zM1359 508h7v1h-7zM1359 518h7v1h-7zM1357 510h1v7h-1zM1367 510h1v7h-1zM1358 509h2v1h-2zM1365 509h2v1h-2zM1358 517h2v1h-2zM1365 517h2v1h-2zM1358 510h1v1h-1zM1366 510h1v1h-1zM1358 516h1v1h-1zM1366 516h1v1h-1z" fill="#c04000"/>
<path d="M103 531h1v1h-1zM103 543h1v1h-1zM100 532h7v1h-7zM99 533h9v1h-9zM98 534h11v7h-11zM99 541h9v1h-9zM100 542h7v1h-7z" fill="#c8c800"/>
<path d="M149 531h1v1h-1zM149 543h1v1h-1zM146 532h7v1h-7zM145 533h9v1h-9zM144 534h11v7h-11zM145 541h9v1h-9zM146 542h7v1h-7z" fill="#c8c800"/>
<path d="M208 531h1v1h-1zM208 543h1v1h-1zM205 532h7v1h-7zM204 533h9v1h-9zM203 534h11v7h-11zM204 541h9v1h-9zM205 542h7v1h-7z" fill="#c8c800"/>
<path d="M255 531h1v1h-1zM255 543h1v1h-1zM252 532h7v1h-7zM251 533h9v1h-9zM250 534h11v7h-11zM251 541h9v1h-9zM252 542h7v1h-7z" fill="#c8c800"/>
<path d="M261 531h1v1h-1zM261 543h1v1h-1zM258 532h7v1h-7zM257 533h9v1h-9zM256 534h11v7h-11zM257 541h9v1h-9zM258 542h7v1h-7z" fill="#c8c800"/>
<path d="M307 531h1v1h-1zM307 543h1v1h-1zM304 532h7v1h-7zM303 533h9v1h-9zM302 534h11v7h-11zM303 541h9v1h-9zM304 542h7v1h-7z" fill="#c8c800"/>
<path d="M314 531h1v1h-1zM314 543h1v1h-1zM311 532h7v1h-7zM310 533h9v1h-9zM309 534h11v7h-11zM310 541h9v1h-9zM311 542h7v1h-7z" fill="#c8c800"/>
<path d="M360 531h1v1h-1zM360 543h1v1h-1zM357 532h7v1h-7zM356 533h9v1h-9zM355 534h11v7h-11zM356 541h9v1h-9zM357 542h7v1h-7z" fill="#c8c800"/>
<path d="M366 531h1v1h-1zM366 543h1v1h-1zM363 532h7v1h-7zM362 533h9v1h-9zM361 534h11v7h-11zM362 541h9v1h-9zM363 542h7v1h-7z" fill="#c8c800"/>
<path d="M413 531h1v1h-1zM413 543h1v1h-1zM410 532h7v1h-7zM409 533h9v1h-9zM408 534h11v7h-11zM409 541h9v1h-9zM410 542h7v1h-7z" fill="#c8c800"/>
<path d="M419 531h1v1h-1zM419 543h1v1h-1zM416 532h7v1h-7zM415 533h9v1h-9zM414 534h11v7h-11zM415 541h9v1h-9zM416 542h7v1h-7z" fill="#c8c800"/>
<path d="M472 531h1v1h-1zM472 543h1v1h-1zM469 532h7v1h-7zM468 533h9v1h-9zM467 534h11v7h-11zM468 541h9v1h-9zM469 542h7v1h-7z" fill="#c8c800"/>
<path d="M466 531h1v1h-1zM466 543h1v1h-1zM463 532h7v1h-7zM462 533h9v1h-9zM461 534h11v7h-11zM462 541h9v1h-9zM463 542h7v1h-7z" fill="#c8c800"/>
<path d="M518 531h1v1h-1zM518 543h1v1h-1zM515 532h7v1h-7zM514 533h9v1h-9zM513 534h11v7h-11zM514 541h9v1h-9zM515 542h7v1h-7z" fill="#c8c800"/>
<path d="M524 531h1v1h-1zM524 543h1v1h-1zM521 532h7v1h-7zM520 533h9v1h-9zM519 534h11v7h-11zM520 541h9v1h-9zM521 542h7v1h-7z" fill="#c8c800"/>
<path d="M571 531h1v1h-1zM571 543h1v1h-1zM568 532h7v1h-7zM567 533h9v1h-9zM566 534h11v7h-11zM567 541h9v1h-9zM568 542h7v1h-7z" fill="#c8c800"/>
<path d="M577 531h1v1h-1zM577 543h1v1h-1zM574 532h7v1h-7zM573 533h9v1h-9zM572 534h11v7h-11zM573 541h9v1h-9zM574 542h7v1h-7z" fill="#c8c800"/>
<path d="M624 531h1v1h-1zM624 543h1v1h-1zM621 532h7v1h-7zM620 533h9v1h-9zM619 534h11v7h-11zM620 541h9v1h-9zM621 542h7v1h-7z" fill="#c8c800"/>
<path d="M630 531h1v1h-1zM630 543h1v1h-1zM627 532h7v1h-7zM626 533h9v1h-9zM625 534h11v7h-11zM626 541h9v1h-9zM627 542h7v1h-7z" fill="#c8c800"/>
<path d="M676 531h1v1h-1zM676 543h1v1h-1zM673 532h7v1h-7zM672 533h9v1h-9zM671 534h11v7h-11zM672 541h9v1h-9zM673 542h7v1h-7z" fill="#c8c800"/>
<path d="M683 531h1v1h-1zM683 543h1v1h-1zM680 532h7v1h-7zM679 533h9v1h-9zM678 534h11v7h-11zM679 541h9v1h-9zM680 542h7v1h-7z" fill="#c8c800"/>
<path d="M729 531h1v1h-1zM729 543h1v1h-1zM726 532h7v1h-7zM725 533h9v1h-9zM724 534h11v7h-11zM725 541h9v1h-9zM726 542h7v1h-7z" fill="#c8c800"/>
<path d="M735 531h1v1h-1zM735 543h1v1h-1zM732 532h7v1h-7zM731 533h9v1h-9zM730 534h11v7h-11zM731 541h9v1h-9zM732 542h7v1h-7z" fill="#c8c800"/>
<path d="M782 531h1v1h-1zM782 543h1v1h-1zM779 532h7v1h-7zM778 533h9v1h-9zM777 534h11v7h-11zM778 541h9v1h-9zM779 542h7v1h-7z" fill="#c8c800"/>
<path d="M788 531h1v1h-1zM788 543h1v1h-1zM785 532h7v1h-7zM784 533h9v1h-9zM783 534h11v7h-11zM784 541h9v1h-9zM785 542h7v1h-7z" fill="#c8c800"/>
<path d="M835 531h1v1h-1zM835 543h1v1h-1zM832 532h7v1h-7zM831 533h9v1h-9zM830 534h11v7h-11zM831 541h9v1h-9zM832 542h7v1h-7z" fill="#c8c800"/>
<path d="M841 531h1v1h-1zM841 543h1v1h-1zM838 532h7v1h-7zM837 533h9v1h-9zM836 534h11v7h-11zM837 541h9v1h-9zM838 542h7v1h-7z" fill="#c8c800"/>
<path d="M887 531h1v1h-1zM887 543h1v1h-1zM884 532h7v1h-7zM883 533h9v1h-9zM882 534h11v7h-11zM883 541h9v1h-9zM884 542h7v1h-7z" fill="#c8c800"/>
<path d="M893 529h1v1h-1zM893 541h1v1h-1zM890 530h7v1h-7zM889 531h9v1h-9zM888 532h11v7h-11zM889 539h9v1h-9zM890 540h7v1h-7z" fill="#c8c800"/>
<path d="M940 531h1v1h-1zM940 543h1v1h-1zM937 532h7v1h-7zM936 533h9v1h-9zM935 534h11v7h-11zM936 541h9v1h-9zM937 542h7v1h-7z" fill="#c8c800"/>
<path d="M946 531h1v1h-1zM946 543h1v1h-1zM943 532h7v1h-7zM942 533h9v1h-9zM941 534h11v7h-11zM942 541h9v1h-9zM943 542h7v1h-7z" fill="#c8c800"/>
<path d="M993 531h1v1h-1zM993 543h1v1h-1zM990 532h7v1h-7zM989 533h9v1h-9zM988 534h11v7h-11zM989 541h9v1h-9zM990 542h7v1h-7z" fill="#c8c800"/>
<path d="M999 531h1v1h-1zM999 543h1v1h-1zM996 532h7v1h-7zM995 533h9v1h-9zM994 534h11v7h-11zM995 541h9v1h-9zM996 542h7v1h-7z" fill="#c8c800"/>
<path d="M1045 531h1v1h-1zM1045 543h1v1h-1zM1042 532h7v1h-7zM1041 533h9v1h-9zM1040 534h11v7h-11zM1041 541h9v1h-9zM1042 542h7v1h-7z" fill="#c8c800"/>
<path d="M1052 531h1v1h-1zM1052 543h1v1h-1zM1049 532h7v1h-7zM1048 533h9v1h-9zM1047 534h11v7h-11zM1048 541h9v1h-9zM1049 542h7v1h-7z" fill="#c8c800"/>
<path d="M1098 531h1v1h-1zM1098 543h1v1h-1zM1095 532h7v1h-7zM1094 533h9v1h-9zM1093 534h11v7h-11zM1094 541h9v1h-9zM1095 542h7v1h-7z" fill="#c8c800"/>
<path d="M1104 531h1v1h-1zM1104 543h1v1h-1zM1101 532h7v1h-7zM1100 533h9v1h-9zM1099 534h11v7h-11zM1100 541h9v1h-9zM1101 542h7v1h-7z" fill="#c8c800"/>
<path d="M1151 531h1v1h-1zM1151 543h1v1h-1zM1148 532h7v1h-7zM1147 533h9v1h-9zM1146 534h11v7h-11zM1147 541h9v1h-9zM1148 542h7v1h-7z" fill="#c8c800"/>
<path d="M1157 531h1v1h-1zM1157 543h1v1h-1zM1154 532h7v1h-7zM1153 533h9v1h-9zM1152 534h11v7h-11zM1153 541h9v1h-9zM1154 542h7v1h-7z" fill="#c8c800"/>
<path d="M1203 531h1v1h-1zM1203 543h1v1h-1zM1200 532h7v1h-7zM1199 533h9v1h-9zM1198 534h11v7h-11zM1199 541h9v1h-9zM1200 542h7v1h-7z" fill="#c8c800"/>
<path d="M1210 531h1v1h-1zM1210 543h1v1h-1zM1207 532h7v1h-7zM1206 533h9v1h-9zM1205 534h11v7h-11zM1206 541h9v1h-9zM1207 542h7v1h-7z" fill="#c8c800"/>
<path d="M1256 531h1v1h-1zM1256 543h1v1h-1zM1253 532h7v1h-7zM1252 533h9v1h-9zM1251 534h11v7h-11zM1252 541h9v1h-9zM1253 542h7v1h-7z" fill="#c8c800"/>
<path d="M1262 531h1v1h-1zM1262 543h1v1h-1zM1259 532h7v1h-7zM1258 533h9v1h-9zM1257 534h11v7h-11zM1258 541h9v1h-9zM1259 542h7v1h-7z" fill="#c8c800"/>
<path d="M1309 531h1v1h-1zM1309 543h1v1h-1zM1306 532h7v1h-7zM1305 533h9v1h-9zM1304 534h11v7h-11zM1305 541h9v1h-9zM1306 542h7v1h-7z" fill="#c8c800"/>
<path d="M1315 531h1v1h-1zM1315 543h1v1h-1zM1312 532h7v1h-7zM1311 533h9v1h-9zM1310 534h11v7h-11zM1311 541h9v1h-9zM1312 542h7v1h-7z" fill="#c8c800"/>
<path d="M1362 531h1v1h-1zM1362 543h1v1h-1zM1359 532h7v1h-7zM1358 533h9v1h-9zM1357 534h11v7h-11zM1358 541h9v1h-9zM1359 542h7v1h-7z" fill="#c8c800"/>
<polygon points="206.5,456.5 214.5,468.5 198.5,468.5" fill="none" stroke="#4169e1" stroke-width="1"/>
<polygon points="206.5,402.5 214.5,414.5 198.5,414.5" fill="#ffc020" stroke="#ffc020" stroke-width="1"/>
<polygon points="259.5,402.5 267.5,414.5 251.5,414.5" fill="#ffc020" stroke="#ffc020" stroke-width="1"/>
<polygon points="312.5,402.5 320.5,414.5 304.5,414.5" fill="#ffc020" stroke="#ffc020" stroke-width="1"/>
<polygon points="365.5,402.5 373.5,414.5 357.5,414.5" fill="#ffc020" stroke="#ffc020" stroke-width="1"/>
<polygon points="470.5,402.5 478.5,414.5 462.5,414.5" fill="#ffc020" stroke="#ffc020" stroke-width="1"/>
<polygon points="523.5,402.5 531.5,414.5 515.5,414.5" fill="#ffc020" stroke="#ffc020" stroke-width="1"/>
<polygon points="575.5,402.5 583.5,414.5 567.5,414.5" fill="#ffc020" stroke="#ffc020" stroke-width="1"/>
<polygon points="839.5,402.5 847.5,414.5 831.5,414.5" fill="#ffc020" stroke="#ffc020" stroke-width="1"/>
<polygon points="944.5,402.5 952.5,414.5 936.5,414.5" fill="#ffc020" stroke="#ffc020" stroke-width="1"/>
<polygon points="997.5,402.5 1005.5,414.5 989.5,414.5" fill="#ffc020" stroke="#ffc020" stroke-width="1"/>
<polygon points="1050.5,402.5 1058.5,414.5 1042.5,414.5" fill="#ffc020" stroke="#ffc020" stroke-width="1"/>
<polygon points="1102.5,402.5 1110.5,414.5 1094.5,414.5" fill="#ffc020" stroke="#ffc020" stroke-width="1"/>
<polygon points="1208.5,402.5 1216.5,414.5 1200.5,414.5" fill="#ffc020" stroke="#ffc020" stroke-width="1"/>
<polygon points="1261.5,402.5 1269.5,414.5 1253.5,414.5" fill="#ffc020" stroke="#ffc020" stroke-width="1"/>
<polygon points="1313.5,402.5 1321.5,414.5 1305.5,414.5" fill="#ffc020" stroke="#ffc020" stroke-width="1"/>
<path d="M200 371h13v1h-13zM206 365h1v13h-1z" fill="#008040"/>
<path d="M1048 421h13v1h-13zM1054 415h1v13h-1z" fill="#008040"/>
<polygon points="206.5,340.5 214.5,328.5 198.5,328.5" fill="none" stroke="#c080ff" stroke-width="1"/>
<polygon points="206.5,360.5 214.5,348.5 198.5,348.5" fill="none" stroke="#306080" stroke-width="1"/>
</g>
<rect x="101.5" y="57.5" width="1265" height="482" fill="none" stroke="#000" stroke-width="1" shape-rendering="crispEdges"/>
<g shape-rendering="crispEdges">
<rect x="1288" y="72" width="57" height="1" fill="#ff0000"/>
<rect x="1288" y="91" width="57" height="1" fill="#00c000"/>
<rect x="1288" y="110" width="57" height="1" fill="#0080ff"/>
<path d="M1310 123h13v1h-13zM1310 135h13v1h-13zM1310 124h1v11h-1zM1322 124h1v11h-1z" fill="#c000ff"/>
<rect x="1310" y="142" width="13" height="13" fill="#00eeee"/>
<path d="M1316 161h1v1h-1zM1316 173h1v1h-1zM1310 167h1v1h-1zM1322 167h1v1h-1zM1313 162h7v1h-7zM1313 172h7v1h-7zM1311 164h1v7h-1zM1321 164h1v7h-1zM1312 163h2v1h-2zM1319 163h2v1h-2zM1312 171h2v1h-2zM1319 171h2v1h-2zM1312 164h1v1h-1zM1320 164h1v1h-1zM1312 170h1v1h-1zM1320 170h1v1h-1z" fill="#c04000"/>
<path d="M1316 180h1v1h-1zM1316 192h1v1h-1zM1313 181h7v1h-7zM1312 182h9v1h-9zM1311 183h11v7h-11zM1312 190h9v1h-9zM1313 191h7v1h-7z" fill="#c8c800"/>
<polygon points="1316.5,197.5 1324.5,209.5 1308.5,209.5" fill="none" stroke="#4169e1" stroke-width="1"/>
<polygon points="1316.5,216.5 1324.5,228.5 1308.5,228.5" fill="#ffc020" stroke="#ffc020" stroke-width="1"/>
<path d="M1310 243h13v1h-13zM1316 237h1v13h-1z" fill="#008040"/>
<polygon points="1316.5,270.5 1324.5,258.5 1308.5,258.5" fill="none" stroke="#c080ff" stroke-width="1"/>
<polygon points="1316.5,289.5 1324.5,277.5 1308.5,277.5" fill="none" stroke="#306080" stroke-width="1"/>
</g>
</svg></body></html>
